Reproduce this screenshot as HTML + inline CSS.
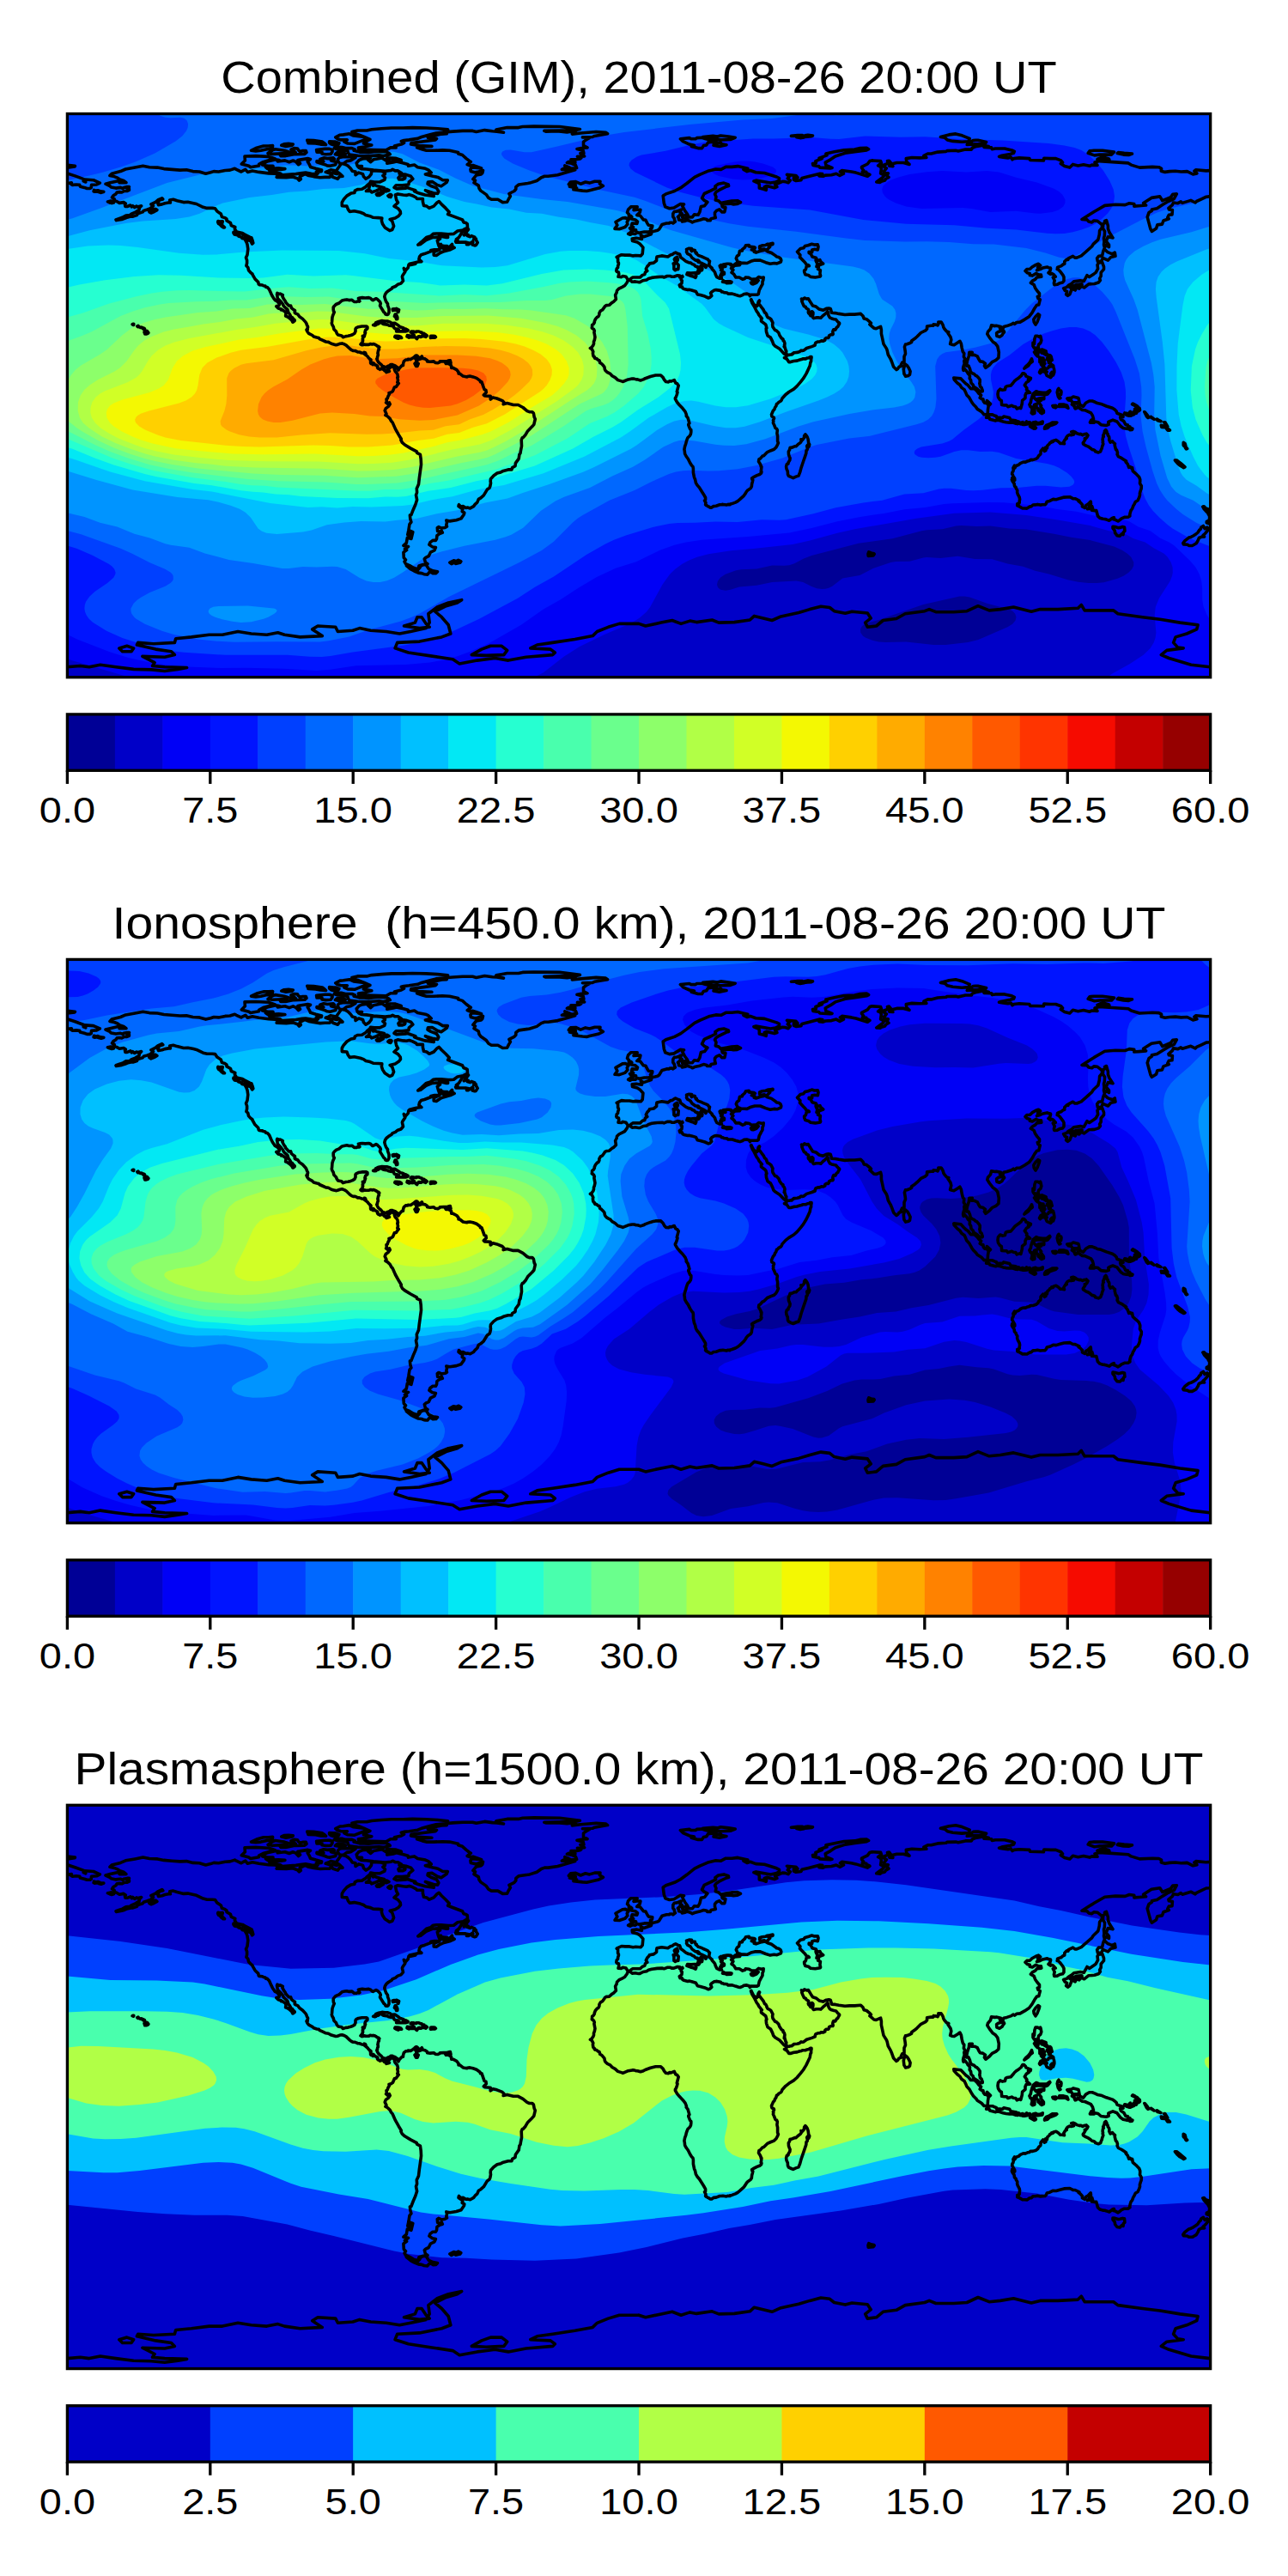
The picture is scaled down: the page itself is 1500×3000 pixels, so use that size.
<!DOCTYPE html>
<html><head><meta charset="utf-8"><title>TEC maps</title>
<style>
html,body{margin:0;padding:0;background:#fff;}
body{width:1500px;height:3000px;overflow:hidden;}
svg{display:block;}
text{font-family:"Liberation Sans",sans-serif;fill:#000;}
.t{font-size:51px;}
.k{font-size:42.5px;}
.c{fill:none;stroke:#000;stroke-width:3.6;stroke-linejoin:round;stroke-linecap:round;}
.f{fill:none;stroke:#000;stroke-width:3.33;}
</style></head><body>
<svg width="1500" height="3000" viewBox="0 0 1500 3000">
<defs><clipPath id="cp"><rect x="0" y="0" width="1331.25" height="656.25"/></clipPath>
<path id="coast" d="M49.5,72 51.8,69.7 61.9,67.1 67.9,64.5 78.8,62.6 88.1,60.8 95.6,62.2 105,62.6 112.5,64.1 121.9,64.9 131.2,65.6 138.8,65.3 146.2,67.1 153.8,67.5 161.2,69.7 166.9,68.3 170.6,67.1 176.2,67.5 183.8,66 189.4,65.6 195,63.8 196.9,64.9 202.5,67.5 204.4,66.4 207.4,64.9 210,67.9 215.6,66.4 223.1,67.9 234.4,69.4 241.9,69.7 247.5,72.4 243.8,73.9 255,74.2 262.5,73.5 268.1,75.4 270,77.6 271.9,76.1 270.8,73.1 276.8,70.1 281.2,72 286.9,73.1 294.4,74.2 300,73.9 305.6,73.9 307.5,71.2 309.4,73.9 315,75.8 316.9,73.1 320.6,72.8 316.9,69.4 313.1,66.7 315,63.8 318.8,58.5 320.6,58.1 324.4,59.2 327,60.8 330,63.8 331.9,66.7 335.6,67.5 335.6,71.2 339.4,68.6 344.2,70.1 345,73.1 347.6,75.8 351.4,73.5 354,70.1 354.4,66.4 360,66.4 365.6,66.7 370.1,68.6 369.8,70.5 367.5,72 370.1,74.6 369.4,76.9 363.8,79.5 357.4,79.5 353.2,78.8 352.5,80.6 348.8,83.6 347.6,85.1 343.1,87.8 337.9,88.1 334.9,89.6 334.5,91.9 330.4,92.6 325.5,95.6 321.8,99.8 319.9,103.1 319.9,107.2 325.5,107.6 327,111.4 328.9,114 334.1,113.3 341.2,114.8 345,116.2 347.6,118.1 352.5,119.2 356.2,120.8 362.2,121.1 366.4,121.5 366,124.5 367.1,128.2 369.8,132.4 375.4,136.1 378.4,135 380.2,130.9 378.4,125.2 375.8,123 381.8,121.5 385.9,118.9 388.1,116.2 387.8,113.6 385.1,110.2 380.6,107.6 385.1,103.5 383.2,100.1 382.1,94.5 384.8,93.4 391.1,94.5 394.9,94.9 398.2,94.1 401.6,95.2 406.1,97.5 407.2,99 414,99 414,102.4 415.1,106.9 418.5,107.6 421.5,109.9 426.8,107.6 430.5,103.5 432.8,102 435.8,105.4 440.6,109.9 444.8,114.4 443.2,117 448.1,118.9 460.1,123.4 461.6,126.4 464.2,127.1 465.8,128.2 466.1,132.8 463.5,133.9 460.9,135.4 454.5,136.5 450,139.9 443.6,140.2 435.4,139.5 429.8,139.5 426,139.9 423,142.5 418.1,144 412.5,149.2 408.4,152.6 411.4,151.9 417.8,147 425.2,144 430.9,143.6 434.2,145.5 430.9,147.8 432,151.9 433.1,154.9 438,156.8 444.4,156 448.1,151.9 448.5,154.5 450.8,156 446.2,158.2 437.6,160.5 434.2,162 429.8,165 426.8,164.6 426.8,161.2 433.5,158.2 427.5,158.2 423.4,159 423.8,160.1 415.9,163.1 412.1,164.2 410.2,166.5 409.5,169.5 412.5,172.1 408.4,172.5 405.4,173.2 398.6,174.8 404.2,174 405.4,174.8 400.1,175.9 397.5,175.9 397.5,176.6 396.8,179.2 394.1,182.2 391.9,180 392.6,182.2 393.4,182.6 393.4,184.1 390.4,188.6 390,189.8 391.1,194.6 388.5,197.6 384.8,198.8 382.1,201 378.4,202.5 378,203.6 373.9,206.2 371.6,208.1 370.1,210.4 369.4,213 370.1,215.6 371.2,218.6 373.1,221.2 373.1,223.1 374.6,227.2 374.6,231.4 373.5,233.6 372.4,234 370.5,233.6 370.1,232.1 368.6,231 366.8,228 364.9,225 364.1,223.5 364.9,220.9 364.1,219 361.1,216 359.6,215.2 355.9,217.1 355.1,216.8 353.2,214.9 351,214.1 346.9,214.5 343.5,214.1 340.5,214.5 339,214.9 339.8,216 339.8,217.5 340.5,218.2 339.8,218.6 338.2,218.2 336.8,219 334.1,219 331.5,216.8 328.1,217.1 325.5,216.4 323.2,216.8 319.9,217.5 316.5,220.5 312.8,222 310.9,223.9 309.8,225.4 309.8,228 310.1,229.9 310.9,231 309.4,234.4 308.6,237 308.2,242.2 307.9,244.1 308.6,246 309.8,247.9 310.5,250.9 313.1,253.5 313.9,255.8 315.4,257.6 319.5,258.4 321,260.2 324.4,259.1 327,258.8 330,258 332.2,257.2 334.5,255.8 335.6,253.5 335.6,250.5 336.4,249.4 339,248.2 343.1,247.5 346.1,247.5 348.4,247.5 349.5,248.2 349.5,250.1 347.2,252 346.5,254.6 347.2,255 346.5,256.9 345.8,259.5 344.6,258.8 343.9,258.8 343.9,259.1 344.6,259.5 344.6,260.2 343.9,262.1 344.2,262.5 343.9,264 344.2,264.4 343.5,266.2 342.8,267 342.4,267.4 341.6,268.5 342.8,269.2 343.1,268.5 344.2,269.2 344.6,269.2 345.4,268.5 346.5,268.5 346.9,268.9 347.2,268.9 349.1,268.9 351,268.9 352.1,268.5 352.5,268.1 353.6,268.1 354.8,268.5 355.5,268.5 356.2,268.1 358.1,268.5 358.5,268.9 360,269.6 360.8,270.4 362.2,270.8 363.4,271.9 363,272.2 362.6,273 363,274.5 362.2,275.6 361.9,277.1 361.5,279 361.9,279.8 361.9,281.6 361.5,282 361.1,283.5 361.1,284.6 360.4,285.4 360.8,286.5 361.1,287.2 362.2,289.1 363.8,290.6 365.6,292.1 366.8,293.6 366.8,294.4 368.2,294.4 368.6,294.4 369.8,295.1 371.6,294.8 373.1,294 375.4,293.2 376.5,292.1 378.8,292.1 378.4,292.5 380.6,292.9 382.1,293.6 383.6,294.8 384.8,295.5 384.4,296.2 385.5,298.5 387,295.9 389.6,293.2 391.1,292.9 391.1,291.4 391.9,288.4 394.1,286.5 396.4,286.5 396.8,285.8 399.8,286.1 402.8,284.2 404.2,283.1 405.8,281.6 407.2,281.6 408.4,282.8 407.6,283.9 405,284.6 406.5,286.9 406.5,289.1 404.6,291 406.1,294 407.6,294 408.8,291 407.2,289.9 407.2,286.9 411.8,285.4 411.4,283.9 412.9,282.4 414,285 416.6,285.4 419.2,287.2 419.2,288.4 422.6,288.8 426.8,288.4 428.6,289.9 431.6,290.2 433.9,289.1 433.9,288.4 442.9,288 439.9,289.1 441,291 444,291 447,292.9 447.4,295.9 449.2,295.9 453.4,298.1 455.6,300.8 455.6,302.6 457.1,302.6 460.9,305.6 465.4,306.4 465.8,306 468.8,305.6 472.5,306.4 476.6,307.9 480.7,310.9 481.1,312.4 482.6,312.4 485.6,321 487.5,321.8 487.9,324.4 484.9,327.4 486,328.5 492.8,328.9 492.8,332.6 495.7,330.4 500.2,331.5 506.6,334.1 508.5,336 507.8,338.2 512.2,337.1 519.4,339 525,339 530.6,342 535.5,346.1 538.1,347.2 541.5,347.2 543,348.8 543.8,353.2 544.9,355.5 543.4,361.9 541.5,364.1 536.2,369.4 533.6,373.9 531,376.9 529.9,377.2 528.8,379.9 529.1,387 528,392.6 527.6,395.2 526.5,396.8 525.8,401.6 522,406.9 521.6,410.2 518.2,412.1 517.5,414.4 513.4,414.4 507.8,415.9 504.8,417.4 500.6,418.5 496.5,421.5 493.1,425.2 492.8,427.9 493.1,430.1 492.4,433.9 491.6,435.8 489,437.6 484.9,444.4 481.5,447.4 478.9,448.9 477.4,452.6 474.8,454.9 473.2,457.1 469.1,459.4 466.1,458.6 464.2,459 460.9,457.1 458.2,457.5 456,455.2 455.6,457.1 460.5,460.5 459.8,463.1 462.4,464.6 462,466.5 458.6,471.4 453,473.2 445.5,474.4 441.4,473.6 442.1,475.9 441.4,478.9 442.1,480.7 439.9,481.9 435.8,482.6 432.4,481.1 430.9,482.2 431.2,486 433.9,487.1 435.8,485.6 436.9,487.9 433.5,489 430.5,491.2 430.1,495 429,496.9 425.6,496.9 422.6,499.1 421.5,501.8 425.2,504.4 429,505.1 427.5,508.5 423,510.7 420.8,515.2 417.4,516.8 415.9,518.2 417,522.4 419.6,524.2 418.5,524.4 414.4,525 409.5,526.5 409.1,528.4 407.6,530.2 403.1,528.8 398.6,526.1 394.1,524.2 392.6,521.6 394.1,519.4 391.9,517.1 391.5,510.7 395.2,508.1 393,507 397.1,504 391.5,502.9 394.9,499.9 396,493.5 400.5,495 402.4,487.1 399.8,486 398.6,490.9 396.4,490.1 397.5,484.9 398.6,477.8 400.5,475.5 399.4,471.8 399,467.6 400.5,467.2 402.8,461.2 405.4,455.2 407.2,449.6 406.1,444 407.2,441 406.9,436.5 409.1,431.6 409.9,424.5 411,416.6 412.1,408.4 411.8,402.4 411,396.8 407.2,394.9 406.9,393.4 399.8,389.6 393,385.5 390,382.9 388.5,379.9 388.9,378.8 385.9,373.9 382.1,367.1 378.8,359.6 377.2,357.8 375.8,355.1 373.1,352.5 370.5,351 371.6,349.5 369.8,345.8 370.9,343.1 373.9,340.9 375.8,338.2 375,336.4 373.5,338.2 371.2,336.4 372,335.6 371.6,332.2 372.8,331.5 373.5,329.2 375,326.6 374.6,325.1 376.9,324.4 379.1,322.9 381,318.4 382.9,318 384.4,315.8 385.9,313.9 384.4,312.8 385.1,310.5 384.4,307.1 385.1,306.4 384.4,303 382.9,301.1 381.8,300 381,297.8 381.8,297 381,296.6 380.2,295.5 378.4,294.4 376.5,294.8 375.8,295.9 374.2,297 373.5,297 373.1,297.8 375,300 373.9,300.4 371.6,301.1 370.9,298.9 370.5,299.6 369.4,299.2 368.6,297.8 367.1,297.4 366,297 364.5,297 364.1,297.8 363.8,297.4 361.9,296.6 361.1,295.5 361.5,295.1 361.5,294 360.4,293.2 358.9,292.5 357.8,292.1 357.4,291 356.2,290.2 356.6,291.4 355.9,292.1 355.1,291.4 353.6,291 353.2,290.2 353.2,289.1 353.6,287.6 352.9,287.2 353.6,286.5 352.1,285.4 350.6,283.9 349.9,282.8 348,281.2 346.1,279.8 346.5,279 347.2,279.8 347.6,279.4 346.9,278.2 345.8,277.9 345.4,279 343.1,278.6 342,278.2 340.1,277.5 338.2,277.5 337.1,276.8 335.2,276 333,276 331.1,275.2 329.2,273.8 324.8,269.6 322.9,268.5 319.9,267.4 317.6,267.8 314.6,268.9 312.8,269.2 310.1,268.5 307.5,267.8 304.1,265.9 301.1,265.5 297,263.6 293.6,262.1 292.9,261 290.6,260.6 286.9,259.5 285.4,258 281.2,255.8 279.4,253.5 278.6,251.6 279.8,251.2 279.4,250.1 280.1,249 280.1,247.9 279,246 278.6,244.5 277.5,242.6 274.1,238.9 270.4,236.2 268.5,233.6 265.1,232.1 264.8,231.4 265.1,229.1 263.2,228 261,226.1 260.2,223.5 258,223.5 255.8,221.2 254.2,219.4 253.9,218.2 252,215.6 250.5,212.6 250.9,211.1 247.9,209.6 246.8,210 244.5,208.9 244.1,210.4 244.5,212.2 244.9,214.9 246.4,216.4 249,219 249.7,220.1 250.9,221.6 252,223.9 253.1,225 254.2,226.1 256.5,228 257.6,231.8 258.8,233.2 259.9,235.1 259.9,237 261.8,237 263.2,238.9 264.8,240.4 264.8,241.1 262.9,242.6 262.5,242.6 261.4,240.4 258.8,238.1 256.1,236.2 254.2,235.5 254.6,232.5 253.9,230.6 252,229.5 249.4,227.6 249,228.4 248.2,227.2 245.6,226.5 243.4,224.2 243.8,223.9 245.3,224.2 246.8,222.8 246.8,220.9 244.1,218.2 241.9,217.1 240.4,214.9 238.9,212.6 237.4,209.6 235.9,206.2 235.1,204.4 232.9,202.1 231,201.8 230.6,200.6 228.4,200.2 227.2,199.5 223.5,199.1 222.8,198.4 222.4,196.1 218.6,192.4 215.6,187.1 215.6,186.4 213.8,185.2 211.1,182.2 210.4,178.9 208.5,177 209.2,174 209.2,170.6 208.1,167.6 209.6,164.2 210.4,157.5 209.6,152.2 208.5,149.2 207.4,147.4 207.8,146.6 213.4,148.1 215.3,151.5 216.4,150.4 215.6,147.4 214.5,144.4 213.8,144.4 206.6,140.6 204,139.1 197.2,137.6 195,134.2 195.4,132 190.9,130.1 190.1,127.1 185.6,124.5 185.6,122.6 183.4,121.1 180,120 178.9,116.6 174.4,113.6 172.1,110.2 168.8,109.9 162.8,109.9 158.2,108.8 150.4,105 147,104.2 140.3,102.8 135.4,103.1 127.9,101.2 123.4,99.8 119.3,100.5 120,103.5 117.8,103.5 113.6,104.2 110.3,105.4 106.1,106.1 105.4,104.2 107.2,100.5 111.4,99.4 110.3,98.3 105.4,100.5 102.8,102.8 97.5,105.4 100.1,107.2 96.8,110.2 92.6,111.7 88.9,112.9 87.8,114.4 82.1,116.2 81,118.1 76.5,119.6 73.9,119.6 70.5,120.4 66.8,121.9 63.4,123 57,124.1 56.6,123.4 60.7,121.9 64.1,120.8 68.2,118.5 72.8,118.1 74.6,116.6 79.9,114.4 80.6,113.6 83.6,112.1 84,109.5 86.2,107.2 81.8,108.4 80.6,107.6 78.4,109.1 76.1,107.2 75,108.4 73.5,106.5 69.7,108 67.5,108 67.1,105.8 67.9,104.6 65.6,103.1 60.7,103.9 57.4,102 55.1,101.2 54.7,99 52.1,97.5 53.6,95.2 56.6,93.4 57.8,91.5 60.7,91.1 63.4,91.5 66.4,90 69.4,90 72,88.9 72,87.4 71.2,87 69.4,86.6 72,85.1 69.7,85.1 65.6,85.9 64.5,87 61.9,85.9 56.6,86.6 51,85.5 49.5,84 44.6,81.7 49.9,80.3 58.1,78.4 61.1,78.4 60.7,80.3 68.6,80.3 65.6,78 61.1,76.5 58.5,74.6 54.7,73.1 49.5,72ZM796.1,210.8 803.6,210.8 804.8,210 805.9,205.1 806.6,204 808.1,201 809.6,198.4 809.6,195.4 810.4,193.9 810.8,190.5 808.5,190.9 805.1,190.1 802.5,192.4 796.9,192.8 793.9,190.9 789.8,190.5 789,192 786.4,192.8 782.6,190.5 778.5,190.5 776.2,186.8 773.6,184.9 775.5,181.9 773.2,180 777.4,176.6 783,176.2 784.5,173.6 791.6,174 796.1,171.8 800.6,170.6 807,170.6 813.4,173.2 818.6,174.8 823.1,174 826.5,174.4 831,172.5 831.4,170.6 830.6,168.4 828.4,166.9 826.1,166.5 824.9,165.4 820.1,162 815.6,160.5 812.6,158.6 815.2,157.9 818.2,154.9 816.4,153.4 821.6,151.9 821.6,150.8 818.2,151.5 815.2,151.9 813,153 809.2,153.4 806.2,154.5 806.2,156.8 808.1,157.9 811.9,157.5 811.1,159 807,159.8 802.1,161.6 799.9,160.9 800.6,159.4 796.9,158.2 797.2,157.5 801,156 799.9,155.2 793.9,154.5 793.9,153 790.1,153.4 789,155.6 786,158.2 786,159.4 783,159.8 782.2,164.2 780,165.8 778.9,168.4 780,170.6 780.4,172.1 783.8,173.2 783,174 778.5,174.4 777,175.5 774,177.4 772.5,175.9 772.9,175.1 770.2,174.8 768.4,174.8 763.9,175.5 766.5,177.8 764.6,178.1 762.4,178.5 761.2,176.2 759.8,177 760.5,179.2 762.8,181.1 761.2,182.2 763.1,183.8 765,184.9 765,186.8 761.6,186 762.8,187.9 760.5,188.2 762,191.6 759.4,191.6 756.4,190.1 754.9,187.1 754.1,184.5 752.6,182.6 750.8,180.8 750.8,179.6 750,179.2 747.8,177 747.4,175.5 747.8,172.9 748.1,171.8 747,171 745.9,169.5 744.4,168.8 740.6,167.2 738.4,166.1 735,165 732,162.4 732.8,162 730.9,160.5 730.9,159 728.6,158.6 727.1,160.1 726.4,159 726.4,157.5 727.1,157.1 724.1,156.8 721.1,157.9 721.5,159.8 721.1,160.9 722.2,162.8 725.6,164.6 727.5,167.6 731.6,170.6 734.6,170.6 735.8,171.8 734.6,172.5 738,173.6 740.6,174.8 744,176.6 744.4,177.4 743.6,178.9 741.4,177 738.4,176.6 736.5,178.9 739.5,180.4 739.1,182.2 737.2,182.6 735.4,185.6 733.9,186 733.9,184.9 734.6,182.6 735.4,181.9 733.9,178.1 732.8,178.1 731.2,177.4 730.1,175.9 727.9,175.1 726,173.6 723.4,173.2 720.4,171.8 717,169.1 714.4,167.2 713.2,163.5 711.4,163.1 708.4,161.6 706.5,162.4 704.6,163.9 702.8,164.2 699.4,166.5 692.2,165.4 686.6,166.5 686.2,168.8 686.2,171 682.9,173.6 678,174.4 677.6,175.5 675.4,177.8 673.9,180.8 675.4,183 673.1,184.5 672.4,187.1 669.8,187.9 667.1,190.5 662.2,190.5 658.5,190.5 656.2,192 654.8,193.5 652.9,193.1 651.8,191.6 650.6,189.8 646.9,189 645.4,190.1 641.6,189.8 642.4,186.8 642,184.5 640.1,184.1 639.4,183 639.8,180.4 641.2,178.9 641.2,177.4 642,175.1 642,173.6 641.2,172.5 641.2,171 641.2,168.4 639.8,166.9 645.4,164.2 649.5,164.6 654.8,164.6 658.9,165.4 661.9,165 667.9,165.4 669.8,163.1 670.5,155.6 666.8,151.5 663.8,149.6 658.1,148.1 657.8,145.5 662.6,144.8 669,145.9 667.9,141.4 671.2,143.2 679.9,140.2 681,137.2 684.4,136.5 687.4,135.8 689.2,134.6 692.6,129 697.9,127.5 700.9,127.5 701.6,126.7 704.6,126.7 705.4,127.5 708,125.6 707.2,124.1 706.9,121.9 705.4,120 705.4,116.2 706.1,115.1 706.9,114 710.2,113.6 711.8,112.9 714.8,111.7 714.4,113.6 713.6,114.8 714,115.9 715.9,116.2 715.1,117.8 714,117.4 711,120 712.1,121.9 712.1,123.4 715.9,124.1 715.9,125.6 719.6,124.9 721.9,123.8 726,125.2 727.9,126.4 730.5,125.2 736.5,123.8 741,122.2 744.8,123 745.1,124.1 748.9,124.1 749.6,122.2 754.9,121.1 754.1,118.1 754.1,115.1 756,112.9 759.4,111.4 762.4,114.4 765.4,114.4 766.1,111.4 766.5,109.1 765.4,109.5 762.8,108.4 762.4,106.1 767.2,105 772.1,104.6 775.9,105.4 780,105 784.1,103.1 780.4,101.2 773.6,101.6 766.9,102.8 760.9,103.9 758.6,101.6 754.9,100.5 755.6,96.7 754.1,93.4 755.6,91.1 759,88.9 767.6,84.7 770.2,84 769.9,82.5 764.6,80.6 758.2,81.7 754.5,84.4 755.2,86.6 749.2,89.6 741.8,93 739.1,98.3 741.8,100.9 745.5,102.8 742.1,107.2 738,108 736.5,114.4 734.6,117.8 730.1,117.4 727.9,120.4 723.8,120.4 722.2,117 719.2,112.9 716.2,107.2 718.1,105.4 714,105 706.5,109.5 701.2,110.2 696.4,108.4 694.9,104.2 693.8,95.6 697.1,93.4 707.2,90 714.4,86.2 721.5,81 730.5,73.9 736.5,70.9 747,66.4 755.2,64.5 761.2,64.9 766.9,61.9 774,61.9 780.8,61.1 792.4,63.8 787.5,64.9 791.6,67.1 795.4,66 801.8,68.3 811.9,69 826.1,73.5 829.1,75 829.1,77.6 825,79.5 819,80.6 802.1,77.6 799.5,78.4 805.5,81 805.9,82.9 805.9,86.6 810.8,87.8 813.8,88.9 814.1,87 811.9,85.1 814.5,84 823.5,86.2 826.5,85.1 824.2,82.5 832.9,78.8 836.2,79.1 839.6,80.3 841.9,77.6 838.9,75.4 840.8,73.1 838.1,70.9 848.6,72 850.5,74.2 846,74.6 846,76.9 848.6,78 854.6,77.2 855.4,75 863.2,73.1 876.4,69.7 879.4,70.1 875.6,72.4 880.1,72.8 882.8,71.6 889.9,71.2 895.5,69.7 899.6,72 904.1,69.7 900,67.5 902.2,66 913.1,67.5 918.4,68.6 931.9,72.8 934.5,70.9 930.8,69 930.4,67.9 925.9,67.5 927.4,66 925.1,63 925.1,61.9 931.9,58.5 934.5,55.1 937.1,54.4 947.2,55.1 948,57.4 944.2,60.4 946.9,61.5 948,64.1 947.2,69.4 951.4,71.6 949.5,74.2 942.4,79.5 946.5,79.9 948,78.8 952.1,77.6 953.2,75.8 956.6,73.9 954.4,72 955.9,69.4 951.8,69 951,67.1 954,63.4 949.1,60.4 955.9,57.8 955.1,55.1 957,54.7 958.9,57 957.4,60.8 961.5,61.1 959.6,58.5 966,57 973.9,57 980.6,58.9 977.3,55.9 976.9,52.1 983.6,51 992.6,51.4 1000.5,51 997.5,48.8 1002,46.5 1006.1,46.5 1013.6,44.6 1023.4,43.9 1024.5,43.1 1034.6,42.8 1037.6,43.5 1045.9,41.6 1053,41.6 1053.8,39.7 1057.5,38.3 1066.5,36.7 1072.9,37.9 1067.6,39 1076.2,39.4 1077,41.2 1080.8,40.5 1091.6,40.5 1099.9,42.4 1102.9,43.9 1102.1,45.8 1098,46.9 1088.2,48.8 1085.2,49.9 1089.8,50.6 1095.4,51.4 1098.8,50.6 1100.6,53.3 1102.5,52.1 1108.5,51.4 1120.5,52.1 1121.2,54 1137,54.4 1137.4,51.7 1145.2,52.1 1151.2,52.1 1157.2,54.4 1159.1,56.6 1156.9,58.1 1161.4,61.1 1167.4,62.6 1171.1,58.9 1177.1,60.4 1183.5,59.2 1190.6,60.8 1193.2,59.6 1199.6,60 1196.6,56.6 1201.9,55.1 1235.6,57.4 1239,59.6 1248.8,62.6 1263.8,61.9 1271.2,62.2 1274.2,63.8 1273.9,66.7 1278.4,67.9 1283.6,67.1 1290.4,66.7 1297.1,67.5 1304.2,67.1 1311,70.5 1315.5,69.4 1312.5,66.7 1314.4,65.3 1326,66.4 1333.9,66 1344.8,67.9 1350,69.4M0,69.4 9,72.4 19.1,76.1 18.8,78.4 21.4,79.5 20.3,76.5 30.4,77.2 37.9,80.6 34.1,82.5 28.1,82.9 27.8,86.2 26.2,87 22.9,87 19.9,85.9 15,84.7 14.3,82.9 10.5,82.5 6,82.9 4.1,81.7 4.9,80.3 0.4,81 0,81.0M1350,84.4 1345.1,86.2 1340.2,85.9 1343.6,87.8 1345.9,90.8 1347.8,91.9 1347,94.5 1340.2,93.8 1329.8,96.4 1326.4,96.7 1320.8,99.4 1315.1,102 1313.6,103.5 1308.4,100.9 1298.6,103.9 1296.8,102.4 1293.4,104.2 1288.1,103.5 1287,106.1 1282.5,109.9 1282.9,111.4 1287,112.1 1286.6,117.4 1282.9,117.8 1281.4,120.8 1282.9,122.2 1276.5,124.5 1275,128.6 1269.4,129.4 1268.2,133.5 1263,136.9 1261.5,134.2 1260,128.6 1257.8,120.4 1259.6,115.1 1263,112.9 1263,111.4 1269,110.2 1275.8,105.8 1282.1,102 1288.9,99 1291.9,93.4 1287.4,93.8 1285.1,97.1 1275.4,101.2 1272.4,96.4 1262.6,97.9 1253.2,103.9 1256.2,106.5 1248,107.2 1242.4,107.6 1242.4,105 1236.8,104.2 1231.9,106.1 1220.6,105.8 1208.2,106.9 1195.9,114 1181.6,123 1187.6,123.4 1189.5,125.6 1193.2,126.4 1195.5,124.5 1199.6,124.9 1204.9,129 1205.2,132.4 1202.2,136.1 1201.9,140.6 1200.4,146.6 1194.8,151.9 1193.2,154.5 1180.9,165.4 1175.6,167.6 1173.4,167.6 1171.1,165.8 1165.9,168.4 1165.5,169.9 1164,169.5 1162.5,171 1161.4,172.1 1161.4,174.8 1159.5,175.5 1158.8,176.2 1157.2,177.4 1155,178.1 1153.1,178.9 1153.1,180.8 1152.8,181.1 1154.2,181.5 1156.1,183.4 1159.5,187.9 1160.6,190.1 1160.6,194.6 1159.1,196.5 1155.8,197.2 1152.8,198.8 1149.4,199.1 1149,197.2 1149.8,194.2 1147.9,190.5 1150.9,189.8 1148.2,186.8 1146.4,186 1144.9,186.8 1142.6,185.2 1143.8,183.8 1144.5,183 1145.2,180.4 1144.9,179.6 1142.6,179.2 1141.1,178.5 1135.9,179.6 1132.9,181.1 1129.1,182.2 1131,180.4 1130.2,178.9 1133.2,176.6 1131,174.8 1128,175.9 1123.5,178.5 1121.2,180.8 1117.5,181.1 1115.6,183 1117.9,185.2 1120.9,186 1120.9,187.9 1123.9,188.6 1128,186 1131.4,187.5 1134,187.5 1134.4,189.8 1129.1,190.5 1127.2,192.8 1123.9,194.6 1122,196.9 1125.8,199.1 1127.2,202.9 1129.5,206.2 1132.1,209.2 1132.1,212.2 1129.9,213 1130.6,215.2 1132.9,216.4 1132.1,219.4 1131.4,222.4 1129.1,222.8 1126.5,226.5 1123.5,231.8 1120.1,236.2 1114.9,239.6 1109.6,242.6 1105.5,243 1103.2,244.9 1101.8,243.8 1099.5,245.3 1094.2,247.1 1090.5,247.9 1089,252 1087.1,252 1086,249.4 1087.1,247.9 1081.9,246.8 1080.4,247.1 1076.2,246.4 1075.1,250.5 1072.1,253.9 1071.4,256.5 1074,260.6 1077.8,265.5 1081.1,267.8 1083.4,270.8 1084.9,277.9 1084.5,284.2 1081.5,286.9 1077,289.1 1074,292.5 1069.5,295.9 1068,293.6 1069.1,291 1066.1,288.8 1063.1,288.4 1061.6,286.1 1059.8,282.4 1056.4,280.9 1053,280.9 1053.8,277.9 1050.4,277.9 1050,282 1048.1,287.6 1047,293.6 1049.6,293.6 1051.1,297 1051.9,300.4 1053.8,302.2 1056,303 1057.9,304.9 1059,305.2 1061.2,307.5 1062.8,309.8 1062.8,312.4 1062.4,314.2 1062.8,315.4 1063.1,317.6 1064.6,318.8 1065.8,322.1 1065.8,323.2 1063.1,323.6 1059.8,320.6 1055.2,317.6 1054.9,315.8 1052.6,313.5 1052.2,310.1 1050.8,308.2 1051.1,305.6 1050.4,303.8 1048.9,302.6 1048.1,300.8 1046.2,298.5 1044.4,296.6 1043.6,298.9 1043.2,296.6 1043.6,294.4 1044.8,291 1044.4,288 1045.5,285.4 1044,283.1 1044.4,279 1042.9,277.1 1041.8,272.6 1041,267.8 1039.5,264.8 1036.9,266.6 1032.8,269.2 1030.5,268.9 1028.2,268.1 1029.4,263.2 1028.6,259.9 1025.6,255.4 1026.4,254.2 1024.1,253.5 1021.5,250.5 1020.4,248.6 1020,246.8 1019.2,244.9 1017.7,242.6 1014.4,242.6 1014.8,244.1 1013.6,246.4 1011.8,245.6 1010.2,245.6 1008.8,245.3 1008.4,246.8 1005.8,246.8 1001.2,247.5 1001.2,250.5 999.4,252.4 994.1,255 989.6,259.5 987,261.8 983.2,264.4 983.2,265.9 981.4,267 978,268.3 976.1,268.5 975,271.5 975.8,276.4 976.1,279.4 974.6,282.8 974.6,289.1 972.4,289.5 970.9,292.5 972,293.6 968.6,294.8 967.1,297 965.6,298.1 962.3,294.8 960.4,289.5 958.9,285.8 957.8,283.9 955.9,280.5 954.8,275.6 954,273.4 950.6,268.1 949.1,261 948,256.1 948,251.6 947.2,247.9 942,250.1 939.4,249.7 934.5,245.3 936,243.8 934.9,242.6 930.8,239.2 927.8,238.5 926.6,235.5 924,232.9 916.9,233.6 910.9,233.6 905.6,234 898.5,232.9 894.4,232.1 890.2,231.8 888.8,226.9 886.9,226.5 883.9,226.9 880.1,228.8 875.6,227.6 871.9,224.6 868.1,223.5 865.9,220.1 862.9,215.2 861,215.6 858.4,214.5 857.2,216 855,215.6 855.8,217.5 855.4,218.2 856.5,220.9 858,224.2 859.9,225 860.6,226.5 863.2,228 863.2,229.5 862.9,231 863.2,232.1 864.4,233.2 865.1,234.4 865.5,235.1 865.1,232.5 866.2,230.6 867.4,230.2 868.5,231.4 868.5,233.6 867.8,235.9 868.5,237.4 869.2,238.1 872.2,237.4 875.2,237.4 877.5,237.8 880.1,235.1 882.8,232.9 885.4,230.2 886.1,231.8 886.5,234.8 888,237.4 890.2,238.5 892.9,239.2 895.1,239.6 897,241.9 898.1,243 899.2,243.8 899.2,244.5 897.8,246.8 897.4,247.9 895.9,249 894.4,251.6 892.5,251.2 891.8,252.4 891.4,254.2 891.8,256.5 891.4,257.2 889.5,257.2 887.2,258.4 886.9,260.2 886.1,261 883.9,261 882.4,262.1 882.4,263.6 880.5,264.6 878.2,264.4 876,265.5 874.1,265.5 871.5,266.6 870.8,268.5 870.8,269.6 867,271.1 861,273 857.6,275.6 855.8,276 854.6,275.6 852.8,277.1 850.1,277.9 847.1,278.2 846,278.2 845.2,279.4 844.1,279.6 843.8,280.5 841.9,280.5 840.8,280.9 838.1,280.9 837,278.6 837.4,276.4 836.6,275.2 835.9,272.6 834.8,271.1 835.5,270.8 835.1,269.2 835.5,268.5 835.5,267 834.8,265.1 833.6,264 833.6,262.5 831.8,261.4 829.5,258 828.4,255 825.8,252.4 824.2,252 821.6,248.2 821.2,245.6 821.6,243.4 819.4,239.2 817.5,237.8 815.6,237 814.5,234.8 814.5,234 813.4,232.1 812.2,231.4 810.8,228.4 808.5,225.4 806.6,222.8 804.8,222.8 805.5,220.9 805.5,219.4 806.2,217.9 805.9,217.5 804.8,219 804,222 803.2,223.9 802.1,224.6 801,223.1 799.1,221.6 796.5,216.2 796.1,216.5 797.6,220.5 799.9,224.2 802.9,230.2 804.4,232.1 805.5,234.4 808.9,238.5 808.1,238.9 808.1,241.5 812.6,244.9 813.4,245.6 814.5,249.4 813.8,250.1 814.1,253.9 815.6,258.4 819,260.6 821.2,265.1 822.4,268.5 824.2,270.4 829.5,273.8 834.8,279.4 836.6,280.5 837.4,281.6 837.4,283.1 835.1,284.2 836.6,285 838.1,285.8 840.4,289.1 842.2,289.1 846,288 849.8,287.6 853.1,286.5 855,286.1 856.5,285.4 858.4,285.4 859.9,285.4 861.4,284.6 863.6,284.2 865.1,283.1 866.6,283.1 866.6,284.2 866.2,286.1 866.2,288.4 865.5,289.5 864.8,293.6 862.9,297.8 860.6,302.6 857.2,308.2 853.9,312.4 849.8,317.2 846,320.6 840.4,324 836.6,327 832.5,331.5 831.8,333.4 831,334.5 828.4,336 827.2,337.5 826.1,337.9 825.4,340.5 824.2,342 823.5,344.2 822,345.8 820.1,350.2 820.5,352.5 822.8,353.6 823.1,354.8 822,357 822.4,358.1 822,360 823.1,362.2 824.6,366 826.1,366.8 826.9,368.6 826.5,372.4 827.2,375.4 827.2,381.4 828,383.2 826.9,385.9 825.4,388.5 823.1,390.8 819.4,392.2 815.2,394.1 811.1,398.2 809.6,398.6 807,401.6 805.5,402.4 805.1,405 807,408 807.8,409.9 807.8,411 808.5,411 808.1,414.8 807.8,416.2 808.5,417 808.1,418.5 806.2,420 803.2,421.1 798.8,423.4 797.2,424.5 797.6,426 798.4,426.4 798,428.2 797.2,431.2 796.9,434.2 795.8,436.1 793.1,438 792.4,438.4 790.9,440.2 789.8,442.1 787.9,444.8 783.4,448.9 780.8,451.1 778.1,452.6 774,454.1 772.1,454.5 771.8,455.2 769.5,454.9 767.6,455.6 763.5,454.9 761.2,455.2 759.8,455.2 755.6,456.8 752.6,457.1 750.4,458.6 748.5,458.6 747,457.5 745.9,457.1 744,455.6 744,456 743.2,455.2 743.6,453 742.1,450.4 743.2,449.6 743.2,447 741,443.2 739.1,440.2 736.1,435.4 733.5,432.4 732,429.8 731.2,426 730.1,423.4 729,417.8 729,413.2 728.6,411 727.1,409.5 725.2,406.5 723,402 720.8,399 719.2,396 718.9,393 718.5,390.8 719.2,387.4 720.4,384 720.8,382.1 721.9,378.8 722.6,377.2 724.9,375 726,373.1 726.4,370.5 726.4,368.2 725.2,367.1 723.4,362.6 723.4,361.7 724.5,360.4 723.4,356.6 722.6,354 720.8,351.8 721.1,351 720.8,349.9 719.6,346.9 716.6,343.1 712.9,339.3 710.2,336 708,332.2 708,331.1 708.8,330 709.9,327 710.6,324.4 709.9,323.6 711,319.5 711.8,316.5 710.2,314.2 708.4,313.5 707.6,311.6 706.9,311.2 706.9,310.1 703.1,311.6 701.6,311.2 700.1,312.4 697.1,312 695.2,309.8 693.8,307.1 691.1,304.5 688.5,304.5 685.1,304.5 682.1,305.2 679.1,306 673.1,308.2 670.9,309.4 667.5,310.5 664.1,309.4 662.6,309.4 660,308.6 657.8,308.6 653.2,309.4 646.9,312 646.1,311.6 641.2,310.1 637.9,307.1 634.5,305.2 632.2,302.6 631.1,302.2 628.5,300.8 626.6,298.9 625.9,297.4 625.5,294.8 623.6,292.5 622.1,291 620.2,289.9 619.9,288 619.5,287.2 618.4,286.9 616.1,285 614.6,285 613.9,283.9 613.9,283.1 612.8,282.4 612.4,281.6 612,278.6 612.4,277.1 610.9,274.1 609,273 610.5,272.2 612.4,269.6 613.1,267.8 613.1,265.5 613.9,263.6 614.6,260.2 613.9,256.5 613.5,254.6 613.9,252.8 613.1,250.9 610.9,249.4 611.2,247.9 611.2,246 612.8,244.9 613.9,243 613.9,241.9 615,239.2 617.2,236.6 618.4,236.2 619.5,234 619.5,232.1 621,229.5 623.2,228.4 625.9,224.6 625.9,224.2 627.8,223.1 631.1,222.8 634.1,220.1 636,219 639,216 638.2,211.1 639.8,208.1 640.1,205.9 642.4,203.6 646.1,201.8 649.1,200.2 651.8,196.5 652.9,193.9 655.5,193.9 657.8,195.8 661.5,195.4 665.2,196.1 666.8,196.1 670.5,194.2 674.6,193.5 676.9,192 680.6,190.9 687,190.1 693,189.8 694.9,190.5 698.6,189 702.4,189 703.9,189.8 706.5,189.8 710.6,188.2 713.2,188.6 713.2,190.5 716.2,189 716.6,189.8 714.8,191.6 714.8,193.5 715.9,194.2 715.5,197.6 712.9,199.5 713.6,201.4 715.9,201.4 716.6,203.2 718.1,204 722.6,205.1 724.1,204.8 727.1,205.5 732,207 733.9,210.4 737.2,211.1 742.5,212.6 746.6,214.5 748.5,213.8 750.4,211.9 749.2,208.9 750.4,207.4 753.4,205.5 755.6,205.1 760.9,205.9 762,207.4 763.5,207.4 764.6,208.1 768.4,208.5 769.5,209.6 774.4,209.6 778.1,210.8 781.9,211.9 783.4,212.2 786.4,211.1 787.9,210 791.2,209.6 793.9,210.4 795,212.2 795.8,210.8 796.1,210.8M507,103.1 501.4,99.8 493.9,99.8 490.5,97.9 487.9,94.1 481.5,89.6 479.6,87 478.9,83.6 473.6,80.3 475.1,77.6 472.5,76.1 476.2,71.6 481.9,70.5 483.4,69 484.1,66 480,67.1 477.8,67.9 474.4,68.3 469.9,67.1 469.5,64.5 471,62.6 474.8,62.6 482.2,63.4 475.9,61.1 472.5,60 468.8,60.4 465.8,59.2 469.9,55.9 467.6,54.4 464.6,52.1 460.1,48 455.2,46.5 455.2,45 445.1,42.8 437.2,42.4 427.1,42.8 418.1,42.8 413.6,41.6 407.2,39.4 417,38.3 424.5,37.9 408.8,37.1 400.1,35.6 400.5,34.1 414.8,32.2 428.6,30.4 430.1,28.9 420,27.8 423,26.2 436.1,23.6 441.8,23.3 439.9,21.4 448.9,20.6 460.5,19.9 472.1,19.9 476.2,21 486,19.1 495,20.3 500.2,20.6 508.1,21.7 499.1,19.9 499.5,18.4 512.2,16.1 525.4,16.1 530.2,15 543.4,14.6 573.4,15 597,18 589.9,19.5 575.6,19.5 555.4,19.9 557.2,20.6 570.4,20.3 582,21.4 589.1,20.3 592.1,21.7 588,23.6 597.8,22.5 615.8,21 627,21.7 629.2,23.3 613.9,25.9 611.6,27 600,27.4 608.6,27.8 604.1,30.4 601.1,32.6 601.1,37.1 605.6,39.4 600,39.7 593.6,40.9 600.8,42.8 601.5,46.1 597.4,46.1 602.2,49.5 594,49.9 598.5,51.4 597,52.5 591.8,53.3 586.5,53.3 591.4,55.9 591.4,57.4 583.9,55.9 582,57 587.2,57.8 592.1,60 593.2,63 586.9,63.8 583.9,62.2 579.4,60.4 580.5,62.6 576,64.9 586.1,64.9 591.4,65.3 581.2,68.3 571.1,71.2 559.9,72.8 555.8,72.8 552,74.2 546.8,78 538.5,80.6 536.2,81 531,81.7 525.8,82.5 522.4,85.1 522.4,87.8 520.5,90 514.5,93 516,96 514.1,99 512.2,102.8ZM620.6,78.8 619.9,81.4 624,84 619.1,86.6 608.2,89.2 604.9,90 600,89.6 589.5,88.3 593.2,86.6 585,84.7 591.8,84 591.8,82.9 583.9,82.1 586.1,79.5 592.1,79.1 597.8,81.7 603.4,79.5 608.2,80.6 614.2,78.8ZM663.8,108.4 659.6,112.1 663.4,111.7 667.5,111.7 666.8,114.8 663.4,118.1 667.1,118.5 670.9,123.4 673.5,123.8 675.8,128.2 676.9,129.8 681.4,130.5 681,132.8 679.1,133.9 680.2,135.8 677.2,137.6 672,137.6 665.6,138.8 663.8,138 661.5,139.9 658.1,139.5 655.5,140.8 653.2,139.9 658.9,136.1 662.2,135.4 656.2,134.6 655.1,133.1 659.2,132 657,130.1 657.8,127.5 663.4,127.9 664.1,125.6 661.5,123.4 657,122.6 655.9,121.5 657.4,120 656.2,118.9 654,120.8 654,117 652.1,115.1 653.2,111.4 656.2,108.4 659.2,108.4ZM649.5,132 642.8,134.2 637.6,133.9 640.5,129.8 638.6,126 643.9,123 646.5,121.5 649.9,121.1 653.6,123.4 651.8,126 652.5,128.6ZM464.6,138 462,141.4 464.6,139.9 466.9,141 465.8,142.1 469.1,143.2 470.6,142.1 474.4,143.6 473.2,146.2 475.9,145.5 476.2,147.4 477.8,150 475.9,153 474.4,153.4 471.8,152.6 472.5,149.6 471.8,148.9 467.2,152.2 465,152.2 467.6,150.4 463.9,149.6 460.1,149.6 452.6,149.6 452.2,148.5 454.5,147 453,146.2 456,144 459.8,138 462.4,135.8 465.4,134.6 467.2,134.6ZM433.1,141 439.1,141.8 443.2,143.2 443.2,144 441.4,144 436.5,142.9ZM435,151.9 436.1,153.6 439.1,154.1 442.5,154.1 440.6,155.6 439.1,155.6 434.6,154.1 433.5,153ZM366.4,241.1 369.8,241.5 372.8,241.5 376.1,242.6 377.6,244.1 381.4,243.8 382.5,244.5 385.9,246.8 388.1,248.6 389.2,248.6 391.5,249.4 391.1,250.5 394.1,250.5 396.8,252 396.4,252.8 393.8,253.5 391.5,253.5 388.9,253.3 383.2,253.5 385.9,251.6 384.4,250.5 382.1,250.5 380.6,249.4 379.9,247.1 377.6,247.1 374.2,246.4 373.1,245.6 368.2,244.9 366.8,244.1 368.2,243.4 364.5,243 361.9,244.9 360.4,244.9 359.6,246 358.1,246.4 356.2,246 358.5,244.9 359.2,243.4 360.8,242.6 362.6,241.9ZM402.8,253.5 406.1,254.2 406.5,253.5 409.5,253.5 411.8,254.6 412.7,254.6 413.2,255.8 415.5,255.8 415.1,256.9 417,256.9 418.9,258.4 417.4,259.9 415.5,259.1 414,259.1 412.5,259.1 412.1,259.9 410.6,259.9 409.9,259.1 408.8,259.5 407.2,262.1 406.1,261.4 406.1,260.6 403.5,259.9 402,260.2 399.4,259.9 397.9,260.6 395.6,259.5 396,258 399.8,258.8 402.4,259.1 403.9,258 402,256.5 402,255 399.8,254.6 400.5,253.5ZM384,258.8 386.6,259.1 388.5,259.9 389.2,261 386.6,261 385.5,261.8 383.2,261 381.4,259.9 381.8,258.8ZM426.4,258.8 428.2,259.1 429,259.9 428.2,260.6 425.2,260.6 423,261 423,259.1 423.4,258.8ZM381.8,233.6 382.9,233.6 384.4,237 384.4,238.9 383.2,239.2 382.5,237 381,235.9ZM378.8,227.6 380.6,227.2 383.1,227.6 383.2,228.4 379.1,229.1ZM383.2,226.9 386.2,228.4 385.5,231 384.8,230.6 385.1,228.8 383.2,227.2ZM443.6,287.6 445.9,287.2 446.6,290.2 443.2,290.6 442.7,290.2 443.6,289.1ZM380.6,85.9 382.9,83.3 390,83.3 397.5,82.5 397.9,79.5 402.4,75.8 400.1,72.8 394.5,70.9 386.6,69.7 389.2,69 385.1,66.4 381.8,66.4 378.8,64.9 376.9,66 370.1,66.7 356.6,65.6 348.4,64.5 342.4,64.1 339.4,62.6 343.1,61.1 337.9,61.1 336.8,57.4 339.8,54 343.5,52.5 353.2,51.4 350.2,53.6 353.2,56.2 356.6,53.3 366.4,51.4 372.8,55.5 372.4,57.8 379.5,56.6 383.2,55.5 391.5,57.4 396.8,58.9 397.1,60.8 404.2,59.6 408,62.2 417,63.8 420.4,65.3 423.8,68.6 417,70.5 426,72.8 431.6,73.9 437.2,77.2 442.9,77.2 441.8,79.9 435.4,84.4 430.9,82.9 424.9,79.1 420,79.5 419.6,81.7 423.4,84 428.6,85.9 430.1,86.6 432.4,90.4 431.2,93 426.4,92.2 417,89.2 422.2,92.2 426.4,94.5 426.8,96 416.6,94.5 408.8,92.2 404.2,90.4 405.4,89.2 399.8,87.4 394.5,85.5 394.5,86.6 383.6,87.4ZM270.8,53.6 280.1,52.1 283.1,52.9 279.8,55.5 282,59.2 283.1,61.9 289.5,63.8 296.2,65.6 295.9,67.1 289.9,67.5 292.1,69 291,70.1 284.2,69.7 277.5,68.6 273.4,69 266.2,70.1 250.1,71.2 247.9,69.4 243,68.3 239.6,68.6 235.1,65.8 237.4,65.3 243.4,64.9 248.6,64.9 253.5,64.1 246,63.4 238.1,63.8 232.9,63.8 231,62.2 239.6,60.8 233.6,60.8 227.2,59.6 230.3,57 232.9,55.5 243,53.3 246.8,54 244.9,55.5 253.5,54.4 258.4,56.2 262.9,54.5 266.2,55.9 269.2,59.2 271.1,57.8 268.5,54ZM223.1,60.4 213.4,62.2 211.5,60.8 202.9,58.5 207,54.4 206.6,49.5 219.4,49.1 234,49.9 237.8,51 241.9,52.5 237,53.6 228,56.2 223.1,58.9ZM269.2,42.4 270.8,43.9 274.1,43.1 277.9,43.1 278.6,45 276.4,46.9 263.6,47.2 254.2,49.1 248.6,49.1 247.9,48 255.8,46.1 238.9,46.9 233.6,46.1 238.9,42.4 242.2,41.2 252.8,42.8 259.5,45 265.9,45 260.6,41.6 264,40.1 268.1,40.5ZM214.1,42.8 220.5,39.7 228.4,37.5 234,37.5 239.2,37.1 238.9,39.7 235.9,41.2 232.5,41.2 225.4,42.8 219.4,43.5ZM308.6,42 308.6,44.2 306.8,46.9 300.8,47.2 296.6,46.5 296.6,44.6 290.6,44.6 290.2,42 300,40.9 305.2,40.9ZM324,46.9 321.8,48.4 316.5,48 312,47.2 313.9,45.4 319.1,44.6 322.5,45.8ZM375.8,47.2 373.1,48 367.9,49.1 363,48.4 352.1,49.1 344.2,49.1 338.2,48.8 328.5,47.6 327,45.4 326.6,43.5 322.9,42 315,41.6 310.9,40.1 312.4,38.6 319.9,39 324,40.1 331.5,40.1 334.9,41.6 333.8,42.8 338.2,43.9 340.5,44.6 345.8,44.6 351,45 357,44.2 364.5,43.9 370.9,44.2 374.6,45.8ZM325.5,55.1 321.4,58.1 317.2,57.8 315,54.7 315,52.9 316.9,51 320.6,50.3 328.5,50.3 335.6,51 330,54.4ZM312.4,59.2 306,60.8 302.6,60.4 300,59.2 290.6,56.2 290.6,55.1 298.5,55.5 294.4,52.9 298.5,51.4 303,52.1 309.8,51.4 310.9,52.5 307.1,54.4 313.1,55.9ZM316.5,69 313.9,70.1 309,69 306,69.6 300.8,67.9 304.1,66.7 306.8,65.3 310.5,66 312.8,66.7 313.9,67.5ZM355.5,81.7 356.2,83.6 358.1,82.9 360.4,84 364.5,85.1 369,86.2 369,88.1 372,87.8 374.6,89.2 371.2,90.4 365.6,89.2 363.4,87.8 359.6,89.6 354.4,91.5 352.9,89.6 348,90 351,88.1 351.8,85.1 352.9,81.7ZM367.9,92.2 363.4,94.9 360.8,94.9 360,93.8 362.6,92.2ZM375.4,94.1 376.9,94.1 377.6,94.9 376.5,97.1 374.6,96.7 373.5,95.6ZM390.4,76.5 386.2,76.5 385.5,74.6 387,72.8 390.4,72 393.4,73.1 393.4,74.6 393,75.4ZM388.9,54 388.9,55.1 385.1,54.7 381,54.7 376.9,55.5 375.8,55.1 371.6,53.3 372,51.7 373.5,51.4 382.1,51.7ZM339.4,41.2 356.2,42 371.2,42.4 376.5,39.4 382.9,39.4 381,37.5 388.9,35.6 392.2,33.8 388.9,31.9 391.9,31.1 397.9,30.4 408,28.9 412.5,27 423.4,24 429.4,22.5 440.2,21.4 443.1,18.4 431.2,17.2 418.1,16.5 402,16.1 391.1,16.5 377.6,16.5 366,17.2 354.4,18.2 348.8,19.5 337.9,19.5 331.5,21 332.2,22.3 339.4,24.4 345.8,27 352.5,30 348.8,31.9 345,34.5 354.4,36.4 345.8,38.6 339,39.6ZM348.8,29.2 334.5,34.9 326.6,34.5 322.5,32.6 325.9,30.4 318.8,30.4 314.6,29.2 312.4,27.4 317.6,24.7 321.4,24.4 328.5,23.3 333.4,25.5 345.8,27ZM286.9,31.1 297,32.6 299.6,34.5 301.1,36 295.1,35.6 289.1,34.5 280.5,34.1 284.2,33 279.8,32.2 279.4,30.8ZM305.2,33.8 305.2,32.2 310.1,32.6 312.2,32.6 316.5,34.1 315.8,35.3 310.1,36.2 307.1,35.3ZM257.6,34.9 262.9,35.6 261.8,36.7 254.6,37.9 249.4,36.7 252.4,35.3ZM211.9,146.2 210,146.6 203.6,145.1 202.7,143.6 199.3,142.5 198.8,141.4 194.8,140.6 193.5,138.8 193.6,137.7 197.6,138.6 199.9,139.1 203.4,139.5 204.7,140.8 206.6,142.5 210.4,144.1ZM175.5,125 177.4,125.5 180.9,125.2 179.8,129.4 183.1,132.4 181.6,132.4 179.3,130.7 177.9,129 176.1,127.9 175.3,126.2ZM101.2,114 97.5,115.5 95.6,114.4 94.9,112.5 98.2,111.4 100.5,110.7 102.9,111 104.5,112.1ZM50.6,101.6 53.6,102 54,103.5 51.8,104.1 49.3,103.4 47,102.4ZM31.1,88.9 33.4,89.6 35.6,89.2 38.6,90.4 42.4,90.8 42,91.1 39.4,91.9 36.4,91.1 34.9,90.4 31.7,90.8 30.7,90.4ZM91.9,256.5 93.8,255.8 94.5,255 93,253.1 90.4,252.4 89.6,254.2 90.4,256.5ZM88.9,250.9 90,250.3 88.9,249.6 87.4,249.7ZM83.6,248.2 82.1,248.2 81.4,247.3 82.5,246.8ZM77.2,246 75.7,245.4 76.5,244.9 77.4,244.9ZM85.1,249 87,248.8 85.5,248.6ZM417.8,525.4 419.1,527.2 420.9,530.1 425.8,532.3 431.1,533.2 429.4,535.1 425.8,535.3 423.9,534 421.6,533.9 419.4,536.6 417.6,536.5 415.4,536.2 412.7,535.1 408.8,534.6 404,532.5 400.2,530.5 395,526.3 398.1,527.1 403.4,529.5 408.4,530.9 410.2,529.1 411.5,526.6 414.9,525ZM445.5,522.6 450,520.3 453.2,521.2 455.4,519.8 458.4,521.4 457.3,522.8 452.2,523.9 450.6,522.6 447.4,524.2ZM731.6,29.2 733.1,28.1 738.8,27.8 743.6,29.2 755.6,32 746.2,33.4 744.4,36.4 741,37.1 739.1,40.1 734.6,40.1 726.8,37.9 730.1,36.7 724.5,35.6 717,32.2 714,29.2 724.5,28.1 726.4,29.2ZM751.9,25.9 757.1,26.6 760.9,25.5 770.2,26.6 777.8,27.8 772.1,30 761.2,30.4 750.4,29.6 749.6,28.9 744.4,28.5 740.2,27ZM767.6,36.2 759.4,37.9 752.6,36.7 755.2,36 753,34.7 760.9,33.8 762.4,35.3ZM868.1,58.1 871.9,57.4 871.5,55.1 879,52.1 875.6,51.6 884.6,48.4 883.5,46.5 892.1,44.6 904.5,42.2 916.9,41.6 923.2,40.1 930.8,39.7 933.2,41.2 930.8,42.4 917.2,44.2 906,45.8 894.4,49.5 888.8,53.3 882.8,56.6 883.5,60 890.6,63 888.4,63.4 876.4,62.6 875.2,61.1 868.5,60ZM843,25.9 850.5,25.1 856.1,25.1 856.9,26.2 859.1,25.3 862.5,24.7 868.1,25.5 866.6,26.2 861.8,26.6 858.4,27 857.8,27.4 853.5,28.1 849.4,27.2 851.6,25.9ZM1049.6,32.2 1041.8,32.8 1031.2,31.9 1024.9,30.4 1021.9,27.8 1017,27 1026.8,24.4 1034.6,23.4 1042.1,25.3 1050.8,28.9ZM1069.1,34.5 1047.8,36 1054.9,31.1 1057.9,30.8 1060.5,30.8 1070.2,33ZM1195.5,42.8 1205.6,42.8 1219.1,44.6 1216.1,47.6 1202.2,47.6 1196.2,48.4 1188.8,45.8 1190.6,43.3ZM1222.9,46.1 1224,45 1230.8,45.8 1240.1,46.5 1236,48 1230,47.6ZM1207.9,53.6 1200,53.3 1199.6,52.9 1203,51.4 1207.9,51 1213.1,52.5 1213.5,53.6ZM1345.1,61.5 1350,60.0M0,60 0.4,59.8 9,60.8 8.6,61.5 0,62.6M1350,62.6 1345.9,62.6 1345.1,61.5M1210.1,124.1 1212,130.5 1212,133.9 1213.5,138 1217.6,144.4 1212,143.2 1209.8,148.5 1213.1,152.6 1213.1,155.2 1210.1,153 1207.9,155.6 1207.1,152.6 1207.5,148.9 1207.1,144.8 1207.9,142.1 1208.2,136.9 1206,133.5 1206.4,128.2 1209.8,126.4 1208.2,124.9ZM1214.6,162.4 1217.2,163.3 1219.9,161.6 1220.6,165.8 1215.4,166.9 1212,170.6 1206,168 1204.1,172.1 1200,172.1 1199.2,168.4 1201.1,165.8 1205.2,165.4 1206.4,160.1 1207.5,157.3 1211.6,161.2ZM1203.8,189 1202.2,192 1203,193.9 1200.9,196.5 1196.2,198 1189.5,198.4 1184.2,202.5 1181.6,201.2 1181.6,198.4 1174.9,199.1 1170.8,201 1166.2,201 1170,203.8 1167.4,210.2 1165.1,211.9 1163.2,210.4 1164.2,207 1161.8,205.9 1160.2,203.2 1163.8,202.1 1165.9,199.9 1169.6,197.8 1172.2,195.4 1179.8,194.2 1183.9,195 1187.6,188.2 1190.2,190.1 1195.7,186.4 1197.8,184.9 1200.2,180.4 1199.6,175.9 1201.1,173.6 1205.2,172.9 1207.1,178.1 1207.1,181.1 1203.8,184.9ZM1179.8,200.1 1180.5,201.4 1178.2,203.6 1176.8,202.5 1174.9,203.2 1173.8,205.5 1171.5,204.4 1171.5,202.5 1173.4,200.2 1175.6,201 1177.1,199.1ZM1131.8,236.6 1129.5,242.6 1127.6,245.6 1125.8,242.6 1125.4,239.6 1127.6,236.2 1130.6,233.2 1132.3,234.4ZM1088.6,258 1085.6,259.9 1082.5,258.8 1082.2,255.4 1084.1,253.9 1088.2,252.8 1090.5,252.8 1091.2,254.2 1089.8,255.8ZM1132.1,259.9 1133.2,258.8 1133.6,259.9 1134.4,264 1133.4,267 1131.4,268.5 1130.6,271.5 1131.4,274.5 1133.6,274.9 1135.1,274.5 1139.8,276.4 1139.6,278.6 1140.8,279.4 1140.4,281.2 1137.4,279.4 1135.9,277.3 1135.1,278.6 1132.5,276.4 1129.1,277.1 1127.2,276 1127.6,274.5 1128.8,273.8 1127.6,272.6 1127.2,274.1 1125.4,271.9 1124.6,270.4 1124.6,266.6 1126.1,268.1 1126.5,262.1 1127.6,258.8 1129.9,258.8ZM1149,296.6 1149.4,299.1 1149.4,301.1 1148.2,304.5 1146.8,300.8 1145.2,302.6 1146.4,305.6 1145.2,307.1 1140.8,304.9 1139.6,302.2 1140.8,300.4 1138.5,298.9 1137.4,300.4 1135.5,300 1132.9,302.2 1132.1,301.1 1133.6,298.1 1135.9,297 1138.1,295.5 1139.2,297.4 1142.2,296.2 1143,294.4 1145.6,294.4 1145.2,291.4 1148.2,293.2 1148.6,295.1ZM1123.1,285.4 1123.9,288.6 1121.2,290.6 1119.4,293.2 1114.5,296.6 1116.4,294 1119,291.8 1121.2,289.1ZM1144.5,281.2 1145.6,282.4 1146.8,286.9 1143.8,285.8 1143.8,286.9 1144.9,289.1 1143,290.2 1143,287.6 1141.9,287.2 1141.1,285 1143.4,285.4 1143.4,283.9 1141.1,280.9ZM1132.1,283.5 1134.4,284.6 1136.6,284.6 1136.6,286.1 1134.8,288 1132.5,289.1 1132.5,287.2 1132.5,285.4ZM1136.2,294.4 1134,291.8 1135.9,289.5 1136.1,287.2 1138.1,287.1 1137.4,289.5 1138.5,290.8 1136.6,293.2ZM1130.6,279 1129.9,282.4 1128,280.5 1126.1,277.5 1129.5,277.9ZM1112.6,302.2 1114.1,302.2 1116,304.1 1116.4,305.6 1122,307.9 1121.6,309.4 1119,309.4 1119.8,311.2 1117.1,312.8 1114.9,316.1 1117.5,319.5 1117.1,321.4 1121.2,324.8 1116.8,325.1 1115.6,327.8 1115.6,331.1 1112.2,333.8 1111.9,337.5 1110.4,343.1 1110,342 1105.9,343.5 1104.4,341.2 1101.8,340.9 1099.9,339.8 1095.4,341.2 1093.9,339.4 1091.2,339.4 1088.2,339 1087.9,334.1 1086,333 1084.1,330 1083.6,326.6 1084.1,323.2 1086.4,320.6 1089,321.8 1092,321.2 1092.8,318 1094.2,317.2 1098.8,316.5 1101.4,313.5 1103.2,311.2 1104.8,309.8 1107.9,307.7 1110.8,305.2ZM1032.4,307.5 1040.6,308.4 1044,312 1046.6,314.6 1048.9,316.1 1052.2,320.2 1056.4,320.2 1059.4,322.9 1061.6,325.9 1064.2,327.8 1062.8,330.8 1065,332.2 1066.5,332.2 1066.9,334.9 1068.4,336.8 1071,337.1 1072.9,339.8 1072.1,344.2 1071.8,350.1 1067.6,350.2 1064.6,346.9 1059.8,343.9 1058.2,341.6 1055.2,338.6 1053.4,336 1050.4,330.6 1047.4,327.4 1046.2,324.4 1044.8,321.4 1041.4,318.9 1039.5,315.8 1036.5,313.5 1032.8,309.5ZM1072.9,350.2 1077.4,350.4 1080.4,351.8 1081.9,352.1 1082.2,353.6 1089.4,354 1090.5,352.5 1097.2,354 1098.8,356.6 1104.4,357.4 1108.9,359.6 1104.8,360.9 1100.6,359.4 1097.2,359.6 1093.1,359.2 1089.8,358.5 1085.2,357 1082.6,356.6 1081.1,357.4 1074.4,355.7 1073.6,354 1070.2,353.8ZM1144.5,322.9 1141.5,326.6 1138.9,327.4 1135.1,326.6 1129.1,326.6 1125.8,327.4 1125.4,330 1128.4,333.4 1130.6,331.7 1137.4,330.4 1137.4,332.2 1135.5,331.5 1134,333.8 1130.6,335.2 1134.2,340.1 1133.6,341.2 1137,345.8 1137,348 1134.8,349.1 1133.2,348 1135.1,345 1131.4,346.3 1130.6,345.4 1131,343.9 1128.4,341.6 1128.8,337.9 1126.1,339 1126.5,343.5 1126.5,348.8 1124.2,349.5 1122.8,348.4 1123.7,345 1123.1,341.2 1121.6,341.2 1120.5,338.6 1122,336 1122.4,333.2 1124.2,327.6 1125,325.9 1128.4,323.2 1131.4,324.4 1135.9,324.8 1140.4,324.8 1144.1,322.1ZM1155,322.1 1157.2,322.5 1157.6,324 1157.2,327 1155.4,326.6 1155,329.1 1156.5,331.1 1155.4,331.5 1153.9,329.2 1152.8,324.4 1153.5,321.4 1154.6,319.9ZM1160.2,338.6 1164.4,339.8 1165.5,342.8 1162.5,340.9 1159.5,340.9 1157.2,340.9 1154.6,340.9 1155.4,338.6ZM1152.2,341.1 1150.8,342.4 1148.2,341.6 1147.5,340.1 1151.2,339.8ZM1138.1,366.8 1141.5,366 1144.1,363.4 1147.5,362.2 1151.2,360.8 1152.4,359.6 1149.8,359.6 1147.1,359.6 1143.8,361.5 1140,363 1138.3,365.2ZM1117.1,358.5 1118.6,359.6 1120.9,359.2 1121.6,360.8 1117.5,361.5 1114.9,361.9 1112.6,361.9 1114.1,360 1116,359.8ZM1135.9,358.5 1135.5,360.6 1129.7,361.5 1124.6,361.1 1124.6,359.6 1127.6,358.9 1129.9,360 1132.5,360ZM1121.2,364.1 1124.6,363.4 1126.5,364.5 1128,365.6 1127.6,366.4 1126.1,366.8ZM1104.4,358.9 1108.1,358.5 1108.9,360 1106.6,361.1ZM1109.6,360 1112.6,359.2 1112.2,361.5 1109.6,361.1ZM1071,334.1 1075.1,337.9 1073.6,339.4 1071.4,336ZM1164.4,331.6 1169.6,330.8 1171.5,329.6 1177.5,331.1 1177.9,332.4 1179,338.6 1183.1,340.9 1186.1,336.8 1190.2,334.5 1193.6,334.5 1197,335.8 1199.6,337.1 1203.8,337.9 1210.1,340.5 1217.2,342.8 1219.9,344.6 1221.8,346.5 1222.5,348.8 1228.5,351 1229.6,352.9 1226.2,353.2 1227,355.9 1230.4,358.1 1232.6,362.2 1234.9,362.2 1234.9,363.8 1237.5,364.5 1236.4,365.2 1240.5,366.8 1240.1,367.9 1237.5,368.1 1236.8,367.1 1233.4,366.8 1229.6,366 1226.6,363.8 1224.8,361.5 1222.5,358.5 1217.6,356.6 1214.6,357.8 1212.4,358.9 1212.8,361.9 1209.8,363 1203.8,362.2 1200.4,359.2 1196.6,358.5 1195.9,359.6 1191,359.6 1192.5,356.6 1195.1,355.5 1194,351.4 1192.1,348.4 1185,345.2 1182,345 1176.4,341.2 1175.2,343.1 1173.8,343.5 1173,342 1172.8,340.5 1170,338.6 1174.1,337.5 1176.8,337.5 1176.4,336.4 1170.8,336.4 1169.2,334.1 1165.9,333.4ZM1231.1,349.5 1231.5,348.4 1234.9,349.1 1236.9,348.8 1237.5,347 1237.9,346.9 1238.2,348.8 1240.5,348.6 1241.6,347.2 1243.5,345.9 1243.1,343.9 1245.4,343.7 1246.1,344.2 1246.1,346.4 1245,348.8 1243.1,349 1242.4,350 1240.3,350.9 1238.2,351.8 1236.4,351.8 1233.4,350.7ZM1247.2,341.8 1248.8,343.1 1249.1,345 1248,346 1247.2,343.8 1246.5,342.4 1244.8,341.1 1242.8,339.5 1240.1,338.4 1240.9,337.5 1243.1,338.6 1244.2,339.4 1245.8,340.3ZM1255.5,348 1258.1,351.4 1259.6,353.6 1258.5,354 1257,352.5 1254.4,347.2ZM1273.6,358.2 1269.8,357.2 1268.2,355.9 1269,355.5 1270.5,356.5ZM1278.2,365.1 1274.4,364.9 1273.9,362.8 1276.5,363.4 1277.6,364.1ZM1279.9,362.2 1277.2,359.2 1278.4,359.2 1281.4,364.1ZM1282.9,367.5 1284,368.6 1281.4,368.6 1279.9,366.4ZM1265.6,355.7 1261.9,353.5 1262,352.9 1264.1,354.4ZM1302,387.8 1304.2,390 1303.1,390.4 1302,388.9ZM1300.5,386.9 1299.8,385.9 1299.8,382.9 1301.6,384 1302.4,387ZM1290,403.5 1291.9,403.5 1296.8,407.2 1301.6,411.4 1300.1,412.1 1298.2,411 1295.6,409.5 1293,407.2 1290.8,404.6ZM1342.9,393.8 1345.1,394.1 1344.8,396.2 1342.1,396.8 1340.2,396.2 1339.9,394.5 1341.4,393.4ZM1344.8,390.4 1346.6,389.6 1347.8,391.1 1349.6,390 1349.6,388.5 1345.1,388.5ZM1213.3,379.7 1214.7,382.7 1217.1,381.3 1218.3,382.8 1220.1,384.3 1219.8,386 1220.6,389.2 1221.1,391.1 1222.1,391.5 1223.1,394.7 1222.7,396.7 1224,399.2 1228,401.2 1230.7,403 1233.2,404.6 1232.7,405.5 1234.8,407.9 1236.3,411.9 1237.8,411.1 1239.3,412.7 1240.2,412.1 1240.9,416.1 1243.5,418.4 1245.3,419.9 1248.2,422.9 1249.3,425.9 1249.3,428 1249.1,430.4 1250.9,433.5 1250.7,436.9 1250,438.6 1249,441.9 1249.1,444.1 1248.3,446.8 1246.7,450.2 1243.9,452 1242.5,454.9 1241.3,456.8 1240.2,460 1238.7,461.9 1237.8,464.7 1237.3,467.3 1237.5,468.5 1235.3,469.8 1231.1,469.9 1227.7,471.4 1225.9,472.9 1223.7,474.5 1220.6,472.8 1218.3,472.2 1218.9,470.2 1216.8,471 1213.5,473.7 1210.3,472.6 1208.2,472 1206,471.8 1202.4,470.7 1200,468.4 1199.3,465.5 1198.4,462.1 1196.6,462.1 1193,461.7 1194.2,459.9 1193.3,457 1191.5,459.7 1188.1,460.3 1190.1,458.3 1190.6,456.1 1192.1,454.3 1191.8,451.5 1188.8,454.7 1186.4,456 1185,459 1182,457.4 1182.2,455.4 1179.8,452.7 1177.8,451.3 1178.5,450.5 1173.7,448.2 1171.1,448.1 1167.5,446.2 1160.8,446.6 1155.9,447.9 1151.6,449.2 1148.1,448.9 1144.1,450.9 1140.8,451.7 1140.1,453.7 1138.7,455.2 1135.5,455.3 1133.2,455.6 1129.9,454.9 1127.2,455.4 1124.6,455.5 1122.4,457.5 1121.3,457.4 1119.4,458.4 1117.6,459.6 1114.9,459.5 1112.4,459.5 1108.3,457.1 1106.4,456.4 1106.4,454.2 1108.3,453.7 1108.9,452.8 1108.8,451.5 1109.2,448.9 1108.8,446.7 1106.8,442.9 1106.2,440.7 1106.4,438.6 1104.9,436.2 1104.8,435.1 1103.1,433.6 1102.7,430.6 1100.6,427.6 1100,426.1 1101.7,427.7 1100.4,424.2 1102.3,425.3 1103.4,426.8 1103.3,424.8 1101.5,421.9 1101.1,420.7 1100.2,419.5 1100.6,417.4 1101.4,416.5 1101.9,414.6 1101.5,412.4 1103.1,409.7 1103.4,412.6 1104.9,410 1108,408.8 1109.8,407.1 1112.7,405.8 1114.4,405.5 1115.4,405.9 1118.4,404.5 1120.7,404.1 1121.2,403.3 1122.2,402.9 1124.3,403.1 1128.2,401.9 1130.2,400.3 1131.2,398.3 1133.4,396.4 1133.6,394.9 1133.7,392.8 1136.3,389.7 1137.9,392.9 1139.5,392.1 1138.1,390.4 1139.3,388.5 1141,389.4 1141.4,386.5 1143.5,384.7 1144.4,383.2 1146.3,382.5 1146.3,381.5 1148,381.9 1148,381 1149.7,380.4 1151.5,379.9 1154.2,381.7 1156.4,383.9 1158.7,383.9 1161.1,384.3 1160.3,382.2 1162.1,379.2 1163.8,378.2 1163.2,377.3 1164.8,375.1 1167.1,373.8 1169,374.2 1172.2,373.5 1172.1,371.6 1169.3,370.4 1171.4,369.9 1173.8,370.8 1175.8,372.3 1179,373.3 1180,372.9 1182.4,374.1 1184.5,373 1186,373.3 1186.8,372.6 1188.6,374.4 1187.6,376.5 1186.2,378 1184.9,378.1 1185.3,379.6 1184.2,381.4 1182.9,383.3 1183.1,384.4 1186.1,386.4 1189,387.6 1190.9,388.9 1193.6,391.2 1194.7,391.2 1196.7,392.1 1197.2,393.3 1200.8,394.5 1203.3,393.3 1204,391.2 1204.8,389.6 1205.2,387.5 1206.4,384.5 1205.8,382.7 1206.1,381.6 1205.7,379.5 1206.2,376.6 1206.9,375.9 1206.3,374.7 1207.2,372.7 1208,370.6 1208,369.5 1209.4,368.1 1210.5,370 1210.8,372.3 1211.7,372.8 1211.8,374.4 1213.2,376.2 1213.5,378.4ZM1220.2,481.1 1224,482.2 1225.9,481.9 1228.9,481.1 1231.1,481.5 1231.5,486 1230,487.1 1229.6,490.1 1228.5,489 1225.9,491.6 1225.1,491.6 1222.5,491.2 1220.2,488.2 1219.9,485.6 1217.6,482.6 1217.6,480.7ZM1338.3,478.4 1336.9,480.4 1335,483 1332.2,484.5 1331.5,483.5 1329.9,482.9 1332.1,479.9 1330.9,477.8 1326.8,476.3 1326.9,474.9 1329.6,473.6 1330.3,470.7 1330.1,468.3 1328.6,465.8 1328.7,465.1 1326.9,463.6 1323.9,460.3 1322.4,457.6 1323.8,457.3 1325.8,459.4 1328.7,460.4 1329.8,463.7 1332.5,467.7 1332.6,465.1 1334.3,466.1 1334.9,469 1337.8,470.2 1340.4,470.5 1342.5,469.1 1344.4,469.5 1343.5,472.8 1342.4,475 1339.5,474.9 1338.5,476.1 1338.9,477.7ZM1311.3,491.5 1314.4,489.5 1316.7,487.5 1318.4,484.8 1319.8,483.8 1320.4,481.7 1323,480 1323.8,481.6 1324.7,483.1 1327.4,481.6 1328.4,483.2 1328.4,484.8 1327,486.5 1324.6,489.3 1322.7,490.8 1324.1,492.6 1321.2,492.6 1317.9,494 1317,496.5 1314.8,500.3 1311.9,502 1310,503 1306.5,503 1304.1,501.7 1300,501.4 1299.4,500.1 1301.4,497.3 1306.1,493.6 1308.6,492.9ZM860.8,374.9 861.8,376.5 862.7,379 863.3,383.5 864.3,385.2 863.9,387 863.2,388.1 862,385.9 861.3,387 862,389.8 861.6,391.4 860.6,392.3 860.4,395.4 858.9,399.8 857.1,405 854.7,412.1 853.3,417.3 851.6,421.6 848.5,422.6 845.3,424.1 843.1,423.2 840.1,421.8 839.1,419.9 838.9,416.5 837.6,413.6 837.2,410.9 837.9,408.2 839.6,407.5 839.6,406.2 841.4,403.4 841.7,401 840.9,399.2 840.1,396.9 839.9,393.4 841.2,391.3 841.7,388.9 843.5,388.8 845.6,388 847,387.3 848.7,387.3 850.8,385.2 853.9,382.8 855,381 854.5,379.3 856.1,379.8 858.2,377.2 858.2,375 859.5,373.3ZM981.7,299.9 981.1,303.8 979.6,304.9 976.3,305.7 974.5,302.8 973.9,297.4 975.6,291.3 978.2,293.4 979.9,296ZM733.1,184.9 732,187.9 732.4,189 731.6,190.9 728.6,189.4 726.8,189 721.5,187.1 722.2,185.2 726.4,185.6 730.5,185.2ZM709.5,173.6 711.8,176.2 711.4,181.1 709.5,181.1 708,182.2 706.5,181.1 706.5,176.6 705.8,174.4 707.6,174.8ZM711,169.9 709.5,172.9 708,172.1 706.9,169.5 707.6,168.4 710.2,166.9ZM763.9,194.2 765.8,195.4 768.8,195.4 771.8,195.4 771.4,196.1 773.6,195.8 773.2,196.9 767.6,197.2 767.6,196.5 763.1,195.8ZM797.6,196.5 798.4,195.4 801.4,195.4 804.8,194.2 802.5,196.9 798.8,198.4 796.9,198 796.1,196.5ZM850.1,160.8 853.8,157 857.4,156.3 859.1,154.1 862.6,153.3 867,151.7 870.1,152.6 873.9,152.4 874.6,154.8 873.9,158.4 870.6,157.8 867.4,158.4 867.3,161.2 863.7,160.8 863.8,162.1 865.8,163 867.5,166.4 871.9,167.7 872.6,169 871.7,170.5 871.9,171.4 873,173.8 873.5,171.1 876.5,170.2 877.5,172.3 880.3,174.6 877,175.8 873.5,174.8 872.6,178 875.1,178.2 874.1,180.8 877,182.1 876.5,186 877.2,188.6 876.9,189.5 871,190.5 865.6,189.9 863.1,188 859.5,187.2 858.3,184.4 858.2,182.6 859.6,181.7 860.2,180.4 860.9,177.4 864,177.2 862.8,176.1 861.1,176 859.2,173.3 857.2,171.3 853.1,166.9 853.5,164.4ZM933.4,510.4 936,511.5 939.4,512.2 939.8,512.8 938.6,514.5 932.8,514.9 932.6,512.6ZM722.6,119.6 720.4,122.6 716.2,120.4 715.9,118.9 721.5,117.8ZM-0.4,644.3 15.1,643 25.5,644.3 38.4,641.7 56.5,644.3 77.2,646.9 97.8,647.4 113.4,649 128.9,646.9 139.2,645.1 113.4,644.3 99.1,643 101.7,639.2 87.5,631.9 113.4,632.7 125,630.1 121.1,626.2 103,623.6 81,618.5 82.3,615.9 100.4,617.2 125,615.9 126.3,611.2 144.4,609.4 165.1,606.8 180.6,606.8 198.7,603 214.2,605.5 232.3,606.8 245.2,604.3 253,606.8 271.1,609.4 296.9,608.1 285.3,600.4 291.7,596.5 312.4,597.8 315,603 332.6,601.7M60.4,622.4 69.4,619.8 77.2,622.4 74.6,626.2 64.2,626.2ZM332.6,601.7 340.4,599.1 353.3,601.7 371.4,603 386.9,605.5 399.8,603 417.9,599.1 421.8,592.6 420.5,582.3 430.8,574.5 443.8,569.4 459.3,566.2 454.1,569.4 441.2,573.2 428.3,579.7 436,586.2 443.8,595.2 446.4,605.5 436,609.4 410.2,614.6 384.3,615.9 381.7,622.4 397.2,627.5 423.1,631.4 448.9,635.3 456.7,640.4 477.4,636.6 498.1,634 513.6,636.6 534.3,632.7 565.3,630.1 567.9,627.5 562.7,623.6 539.4,622.4 547.2,618.5 565.3,615.9 591.1,612 611.8,608.1 617,603 629.9,597.8 642.8,593.9 665.6,593.9M392.1,596.5 405,592.6 407.6,586.2 412.7,586.2 417.9,593.9 421.8,597.8 410.2,599.1ZM470.9,630.1 482.5,623.6 492.9,619.8 505.8,619.8 512.3,624.9 508.4,630.1 487.7,630.9ZM665.6,593.9 673.4,596.5 691.5,592.6 704.4,590 714.7,593.9 725.1,590.6 732.8,592.1 750.9,589.5 758.7,592.6 776.8,592.1 794.9,589.5 800,584.9 810.4,587.4 820.7,590 831.1,585.4 851.7,581 864.7,577.1 877.6,573.7 887.9,575 893.1,579.2 906,581.8 913.8,579.7 931.9,581.5 935.8,587.4 929.3,592.6 931.9,597.8 942.2,596.5 950,590 965.5,588 975.8,582.3 998.6,579.2M998.6,579.2 1003.8,577.1 1011.5,580.2 1032.2,580.2 1047.7,579.2 1060.6,573.2 1073.6,578.4 1086.5,577.1 1102,574.5 1122.7,579.7 1133,577.1 1153.7,577.1 1177,575.8 1180.9,571.9 1184.7,578.4 1218.4,578.4 1223.5,582.3 1252,586.2 1272.6,588.7 1295.9,592.6 1316.6,595.2 1315.3,600.4 1303.7,605.5 1290.7,609.4 1288.2,615.9 1293.3,621.6 1299.8,622.4 1280.4,624.9 1273.9,630.1 1283,634 1308.8,641.7 1330.8,644.3"/></defs>
<rect width="1500" height="3000" fill="#fff"/>

<text class="t" x="744" y="108.2" text-anchor="middle" textLength="973.5" lengthAdjust="spacingAndGlyphs">Combined (GIM), 2011-08-26 20:00 UT</text>
<g transform="translate(78.40,132.50)"><g clip-path="url(#cp)">
<rect x="0" y="0" width="1331.25" height="656.25" fill="#000096"/>
<path fill="#0000c8" d="M0,0 1331.2,0 1331.2,656.2 0,656.2ZM1035,479.9 1019,483.8 1000.9,484.8 994.9,485.7 960.9,494.7 921.5,500.2 866.8,514.4 857.1,518.2 846.8,523.8 840.8,525.8 834.8,526.3 820.8,525.9 802.8,530.1 784.7,530.7 778.7,531.7 766.4,536.2 760.7,539.9 757.5,544.2 756.6,548.2 757.1,550.2 758.2,552.2 760.7,554.2 766.7,555.2 772.4,554.2 782.7,550.9 802.8,549.2 820.8,545.6 848.8,543.9 856.8,545.4 866.8,550.5 872.8,552.7 878.8,553.5 882.8,553.2 886.8,552.2 890.8,550.2 902.8,541 922.9,537.4 938.9,529.2 958.9,522.6 964.9,521.4 980.9,521.3 996.9,516.9 1000.9,516.4 1017,517.5 1037,515.3 1057,518.4 1077,518.8 1095,524.1 1113,527.3 1127.1,532.3 1143.1,536.1 1165.1,542.7 1177.1,545.3 1189.1,546.5 1199.1,546.6 1207.1,545.7 1223.1,541.3 1230,538.2 1236,534.2 1239.9,530.2 1241.8,526.2 1241.9,522.2 1238.8,516.2 1234.5,512.2 1228.4,508.2 1219.1,504 1191.1,496.6 1169.1,493.3 1149.1,489.2 1117,484.1 1097,483.1 1075,480 1059,480.6 1041,479.5ZM1039,562.1 996.9,571.4 944.9,589.4 930.9,593.3 926.9,595.4 924.9,597.4 923.6,600.2 923.8,604.2 926.7,608.2 929.9,610.2 936.9,613 944.9,615.1 952.9,615.6 976.9,615 1008.9,618.6 1023,618.6 1049,615.6 1061,612.5 1095,597.8 1100.7,594.2 1104.1,590.2 1105.1,586.2 1103.8,582.2 1101,579.3 1097,577.1 1071,570.2 1051,563 1045,562Z"/>
<path fill="#0000f6" d="M0,0 1331.2,0 1331.2,656.2 1211.5,656.2 1216.6,652.2 1237.2,640.8 1253.2,630.2 1261.2,622.6 1265.2,616.1 1267.2,610.2 1268,604.2 1266.3,584.2 1267.4,574.2 1271.5,564.2 1284.3,544.2 1286.6,538.2 1287.4,534.2 1287.2,528.2 1285.2,522.2 1281.4,516.2 1277.3,512.2 1265.2,505.8 1255.2,499 1241.2,494.4 1231.2,488.8 1227.2,487.5 1213.1,485.7 1191.1,479.5 1155.1,473.3 1117,467.6 1075,464.1 1033,465.2 988.9,471.3 916.9,483.8 896.8,488.3 864.8,497 844.8,501.4 798.8,506.5 772.7,508.8 746.7,512.7 733.4,516.2 723.6,520.2 716.1,524.2 707.9,530.2 701.7,536.2 693.1,548.2 678.6,574.7 674.3,580.2 666.6,587.1 656.6,593.3 626.6,606 596.6,620.5 578.5,632.1 554.5,650.7 543.8,656.2 72.4,656.2 0,634.9Z"/>
<path fill="#0014ff" d="M0,0 1331.2,0 1331.2,589.9 1327.2,583.8 1323.2,574.2 1321.8,566.2 1321.7,552.2 1320.8,544.2 1318.4,536.2 1314.1,528.2 1307.3,520.2 1289.2,503 1283.2,499 1272.8,494.2 1261.2,485.8 1247.2,480.9 1237.2,475 1231.2,473 1215.1,472.4 1175.1,463.2 1153.1,460.6 1131.1,456.4 1091,452.7 1073,452.4 1031,453.7 1021,454.5 998.9,458.4 974.9,460.8 950.9,465.4 924.9,469.2 896.8,474.8 866.8,482.6 840.8,488.1 792.7,492.6 738.7,496.3 720.7,498.9 707,502.2 690.2,508.2 662.6,521.8 638.6,529.3 616.6,539.4 595.1,552.2 574.5,565.7 554.5,577 528.5,595.3 490.5,617.1 469.3,626.2 454.4,631.7 438.4,636.1 422.4,639.1 394.4,641.6 336.3,642.7 306.3,647.3 290.3,648.4 252.2,646.3 208.2,645.2 178.2,645.4 128.1,643.6 102.1,640.3 72.1,633.8 50,627 12,612.2 0,606.5ZM776.7,56 756.7,60.3 752.7,62.1 750.7,64 750.2,66 751.1,68 753.4,70 758.7,72.4 774.7,75.9 786.7,76.9 798.8,76.6 808.8,74.9 819.1,72 823.4,70 825.4,68 825.7,66 824.8,64.5 821.6,62 810.1,58 800.7,56 792.7,55.1 784.7,55.1ZM1000.9,67.8 980.9,70.6 966.9,74.2 958.9,77.3 954.2,80 950.1,84 948.8,88 949.5,92 952.1,96 954.1,98 956.9,100 964.9,104 976.9,108.1 994.9,110.6 1043,109.6 1053,110.6 1075,114.4 1105,113.2 1126.9,116 1133.1,116.2 1147.1,114.4 1154.5,112 1159.9,108 1162,104 1162.1,100 1159.1,94.4 1155.1,90.7 1149.1,87.2 1129.2,80 1105,74.3 1085,68.1 1071,66.6 1047,67.9 1019,66.4Z"/>
<path fill="#0040ff" d="M0,0 1331.2,0 1331.2,504 1307.2,494.6 1287.2,482.9 1280.9,478.2 1271.9,470.2 1264.2,462.2 1259.7,456.2 1255.3,448.2 1252.2,440.2 1245.2,415.4 1236.1,388.1 1232.8,376.1 1231.3,366.1 1230.9,356.1 1232.7,330.1 1232.5,322.1 1231.1,312.1 1227.2,300.7 1221.1,289 1213.1,276.5 1205.1,266.1 1197.1,257.8 1191.1,253.6 1183.1,250.1 1175.1,248.6 1167.1,248.6 1157.1,250.1 1147.1,252.7 1137.1,256.1 1127.1,260.6 1113,268.5 1097,281.2 1083,290.1 1078,296.1 1076.3,300.1 1075.5,304.1 1075.7,310.1 1078.6,324.1 1077.9,332.1 1074,342.1 1069,349 1061,356 1044.3,368.1 1031,378.9 1027,381.3 1019,383.9 994.4,388.1 989.8,390.1 987.3,392.1 986.3,394.2 986.9,396.6 990.9,399.2 994.9,400.2 1002.9,400.8 1010.9,400.3 1017,399.2 1033,393.4 1041,391.8 1049,391.8 1063,393.4 1077,393.2 1085,394.4 1105,401.5 1141.1,407.5 1149.1,409.8 1154.9,412.2 1164.5,418.2 1169,422.2 1172.1,426.2 1172.8,428.2 1172.5,430.2 1171,432.2 1167,434.2 1157.1,435.1 1139.1,433.3 1129.1,433.2 1107,435.4 1087,435.7 1065.6,438.2 1055,438.7 1047,438.4 1029,436.2 1021,436.2 1015,437 996.9,441.7 974.9,443.1 948.9,450.2 926.9,452.9 894.8,458.7 868.8,465.7 836.8,472.7 828.8,473.2 808.8,472.8 780.7,475.5 754.7,475 730.7,476.3 710.7,476.5 700.7,477.6 682.6,481.3 650.6,490.9 636.6,496.3 626.6,500.9 604.6,513.4 566.5,539.1 544.5,551.2 524.5,564.2 479.7,588.2 450.4,601.9 434.4,608.2 412.4,615 392.4,619 332.3,627.1 306.3,631.5 296.3,632.4 282.3,632.3 256.2,630.3 184.2,630.3 136.1,627.3 122.1,625.7 86.1,617.5 64.1,610.5 45.7,602.2 29.6,592.2 25.3,588.2 22.4,584.2 20.7,580.2 20,576.5 20.3,572.2 21.6,568.2 25.8,562.2 32,556.5 47,546.2 53.8,540.2 55.9,536.2 56.2,534.2 54.8,530.2 52,527.1 48.2,524.2 29.3,514.2 10.8,506.2 0,502.9ZM928.9,26 898.8,29.4 888.8,29.3 866.8,27.5 822.8,28.9 798.8,28.9 742.7,33.1 728.7,35.5 696.7,43.2 668.6,48.1 663.3,50 657.1,54 654.6,57.3 654.1,60 656.1,64 661.1,68 698.3,86 712.7,91 746.7,99.8 758.7,101.9 798.8,107.2 864.8,112 926.9,123.5 976.9,128.3 1033,129.7 1071,133.2 1105,135.1 1141.1,139.3 1151.1,139.8 1161.1,139.5 1171.1,137.8 1181.1,135.1 1189.6,132.1 1197.1,128.2 1205.3,122 1211.6,116 1215.9,110 1218.6,104 1219.6,96 1218.3,88 1213.9,78 1206.4,66 1198.1,56 1189.1,47.7 1181.1,42.5 1173.1,39.5 1161.1,37 1143.1,34.6 1089,30.9 1039,29.6 998.9,26.8 970.9,27.3Z"/>
<path fill="#0068ff" d="M104.8,0 861.2,0 820.8,5.4 786.7,7 724.7,12.4 648.6,21.6 618.6,26.4 568.5,38.6 540.5,44.7 532.5,44.7 516.5,42 510.5,42.3 506.7,44 505.6,46 505.8,48 508.8,52 518.8,58 538.2,66 555.5,72 617.1,88 660.6,97.3 672.6,101.2 696.7,110.5 708.7,114.2 770.7,127.8 792.7,131.2 848.8,137.2 906.9,145.1 928.9,147.4 974.9,148.9 1000.9,148.7 1027,149.4 1055,151.8 1079.2,152.1 1117,156.5 1139,162.1 1155.1,167.2 1161.1,168.2 1169.1,167.4 1175.1,165 1207.7,146.1 1249.2,124.4 1269.2,115.1 1283.2,110.5 1315.2,103.2 1331.2,97.7 1331.2,482.8 1325.2,480.9 1315.2,476.4 1299.2,466.6 1291.2,460 1281.2,450.4 1277.2,445.5 1272.5,438.2 1268.7,430.2 1264,416.2 1256.2,388.1 1252.2,370.1 1250.1,352.1 1251.1,328.1 1250.8,318.1 1248.4,302.1 1243.2,285.7 1221.1,230.7 1217.1,222.2 1213.1,216.4 1205.1,207.3 1197.1,199.9 1191.1,195.5 1185.1,192.5 1177.1,190.7 1171.1,190.8 1163.1,193 1151.1,199.3 1123.1,221 1115,229.3 1091.4,258.1 1085,263.6 1077,266.9 1057,272.2 1043,275 1023,277.8 1019,279.6 1015.7,282.1 1012.9,286.1 1010.8,294.1 1012.1,332.1 1011,342.1 1009,348.1 1006.7,352.1 1002.6,356.1 996.9,359.2 988.9,361.7 934.9,375.3 910.5,378.1 872.8,385.6 864.9,388.1 832.8,400.9 802.8,409.5 780.7,413.7 758.7,415.8 746.7,416.1 724.7,415.3 716.7,415.7 708.7,417.1 700.7,419.5 680.9,428.2 660.6,438.6 631.3,450.2 600.6,467.2 594.6,471 588.6,476.1 566.5,498.2 552.5,508.6 526.5,522.6 444.4,562.6 410.4,582 400.4,586.6 388.4,591.1 350.3,601.3 328.3,609 304.3,613.8 294.3,615 244.2,614.7 194.2,615.2 174.2,614.2 152.1,612.1 124.1,606.6 110.1,602.2 90.4,594.2 80.2,588.2 77.9,586.2 74.9,582.2 74.1,579.5 74,576.2 77.2,570.2 81.4,566.2 86.1,562.9 96.1,557.4 114.1,550.2 120.1,546.6 122.4,544.2 123.4,542.2 123.3,538.2 122.1,536.1 120.1,534.1 113.8,530.2 96.1,522.7 75.5,512.2 62.1,506.3 16,489.7 0,485.6 0,77.5 16,74.3 42,68 62.2,62 79.3,56 102,46 126.1,32 133.8,26 138.6,20 140.3,16 140.7,12 139.4,8 136.1,5.2 132.1,4.2 120.1,4.8 114.1,4.2 108.1,2.3ZM873.7,0 874.8,0 908.4,0 900.8,1.4 894.8,1.8Z"/>
<path fill="#0094ff" d="M369,44 380.4,44.2 390.4,46.8 410.4,56.9 432.4,65 452.4,75.2 472.4,83.9 508.5,93.6 552.5,99.6 582.5,102.5 638.6,112.2 661,118 690.6,131 702.7,135.4 774.7,156.1 796.7,160.7 834.8,167.3 914.9,178 922.9,179.9 928.2,182.1 934,186.1 938.9,192.1 941.7,198.1 945.4,210.1 948.8,216.1 960.9,224 963.8,228.1 965,232.1 964.9,237.1 963.4,242.1 958.9,251.1 957.3,256.1 956.9,262.1 957.8,268.1 961,278.1 965.8,288.1 972,298.1 982.9,312.2 986.5,318.1 988,324.1 986.9,330.4 984.9,333.6 982.1,336.1 978.5,338.1 972.9,340 962.9,341.9 938.9,344.7 910.9,349.5 868.8,358.8 850.8,364.3 812.8,378.8 790.7,384.7 776.7,386.4 764.7,386.3 754.7,385.2 730.7,380.9 720.7,380 712.7,380.6 706.7,382.2 694.1,388.1 672.6,402.9 658.6,411.3 634.6,422.1 608.6,435.5 578.6,446.2 568.5,450.9 551.6,462.2 530.8,482.2 517.1,490.2 510.5,492.8 498.4,496.2 462.4,503.2 436.4,509.7 426.4,512.8 418.4,516.2 410.9,520.2 390.4,534.3 380.6,540.2 372.3,543.7 364.3,545.5 356.3,545.6 348.3,543.9 340,540.2 324.3,530.6 314.3,527.6 308.3,527.2 290.3,528 274.3,527.5 258.2,529.4 250.2,529.6 216.2,523.5 188.2,519.4 160.2,512 142.1,505.2 120.5,502.2 114.1,500.7 96.1,494 78.1,489.2 58.1,480.9 38.1,476.2 20,469.4 0,464.8 0,123.4 6,121.8 38.7,110 116.1,80.6 156.1,70.5 178.2,66.9 210.2,63.7 232.2,62.7 254.2,59.9 264.2,59.9 282.3,61.1 304.3,59.5 328.3,59.5 336.3,57.4 356.3,47.2 362.3,45.2ZM1327.8,132.1 1331.2,131.2 1331.2,462.5 1325.2,459.7 1311.2,450.2 1297.2,444.2 1291.2,440.4 1285.7,434.2 1280.9,424.2 1273.2,398.2 1267,368.1 1265.8,350.1 1266.3,318.1 1264.9,304.1 1262.4,290.1 1246.2,228.1 1241.9,216.1 1231.9,194.1 1230.4,188.1 1229.9,182.1 1231.3,174.1 1233.2,170.1 1236.1,166.1 1243.1,160.1 1253.2,154.2 1263.2,149.8 1273.2,146.3 1309.2,137.7ZM170,574.2 176.2,573.5 210.2,573.1 240.2,576 242.2,576.4 244.3,578.2 243.4,580.2 241,582.2 233.9,586.2 228.6,588.2 214.2,591.8 202.2,592.4 192.2,591.2 180.2,588.7 172.2,586.2 167.9,584.2 165.4,582.2 164.3,580.2 164.5,578.2 166.2,576.1Z"/>
<path fill="#00c0ff" d="M367.4,76 378.4,75.3 388.4,76.9 417,86 442.4,96.6 462.4,102.5 476.4,105 494.5,109.1 514.5,111 534.5,115.2 552.5,116.3 572.5,120.3 592.6,123 608.6,126.6 630.6,130.6 655.1,140.1 696.7,162.3 748.7,182.9 760.7,188.7 773.5,196.1 787.8,206.1 802.8,219 805,222.1 809.2,232.1 811.7,236.1 817.9,242.1 824.2,246.1 834.8,250.2 862.8,257 878.8,261.8 886.8,265 892.8,268.5 898.8,273.5 902.8,278.1 908.4,288.1 910.1,294.1 910.6,300.1 910,306.1 907.9,312.1 903.8,318.1 899.2,322.1 892.9,326.1 884.7,330.1 874.8,334.1 836.8,347.2 806.8,358.8 788.7,364.3 778.7,365.7 766.7,365.7 752.7,363.6 722.7,356.5 714.7,356.2 706.7,357.9 698.7,361.4 686.6,368.6 663,386.1 656.7,390.1 612.6,412 600.6,417.2 560.5,431.7 530.5,441.4 512.5,448.1 486.5,453 454.4,461.8 430.4,465.7 406.4,471.4 384.4,473.3 370.3,475.1 342.3,474.4 322.3,475.9 302.3,478.7 284.3,485.1 274.3,487.1 244.2,489.4 231.9,488.2 226.2,486.1 222.2,482.9 213.6,470.2 207.4,464.2 200.8,460.2 190.1,456.2 176.2,452.2 164.2,449.7 128.1,446.6 76.1,437.9 34,426.6 0,416.1 0,142.8 26,135.8 68.1,127.5 88.1,125.1 126.1,122.5 142.1,120 154.1,116.3 174.2,106.7 181,104 212.2,97.4 238.2,94.4 258.2,91.3 278.3,90.1 298.3,87.6 322.3,86.4 342.3,82.8 358.4,78ZM1326.5,158.1 1331.2,156.8 1331.2,443.9 1327.2,441.9 1315.2,433.3 1303.3,426.2 1299.2,422.1 1296.8,418.2 1294.3,412.2 1285.1,382.1 1281.9,368.1 1279.9,354.1 1278,292.1 1275.4,266.1 1268.3,214.1 1267.5,204.1 1268.2,196.1 1270.2,190.1 1274.3,184.1 1278.6,180.1 1284.4,176.1 1292.1,172.1Z"/>
<path fill="#02e8f4" d="M23.8,154.1 48,153 62.1,153.5 82.1,155.5 130.1,162.3 158.1,164.3 174.2,163.9 206.2,161.1 250.2,158.9 316.3,159.4 346.3,162.7 374.4,168.5 408.4,172.1 436.4,176.8 482.5,178.9 498.5,178.6 512.5,176.8 556.5,163.4 574.5,160.2 584.5,159.6 604.6,159.6 620.6,160.8 632.6,162.4 652.6,166.8 662.6,170.3 672.6,176.5 690.6,189.2 710.7,200.7 738.7,221.3 742.7,225.6 752.7,239.3 758.6,244.1 764.7,247.6 792.7,260.5 857.5,282.1 866.4,286.1 869,288.1 872,292.1 873.2,296.1 872.9,300.1 870.8,304.6 866.8,309.1 859.9,314.1 852.6,318.1 843.9,322.1 818.8,332 792.7,339.8 778.7,341.8 766.7,341.8 754.5,340.1 734.7,335.3 726.7,334.1 718.7,334.5 708.7,337 698.7,341.6 677,354.1 655.2,370.1 644.6,377.1 602.6,398.9 554.5,418.7 508.5,432.4 478.4,437.4 448.4,445.8 424.4,449.7 402.4,454.9 390.4,456.4 354.3,458 332.3,457.6 314.3,458.9 296.3,457.8 280.3,458.6 236.2,453.4 168.2,440 146.1,437.5 90.1,427.7 50,417 6,401.8 0,400.2 0,157.6ZM1329.8,182.1 1331.2,181.6 1331.2,425.8 1327.2,423 1324.5,420.2 1316.9,410.2 1311.2,399.3 1301.2,376.3 1297.2,363.5 1294.3,350.1 1292,322.1 1292.1,294.1 1293.3,268.1 1298.9,224.1 1301.2,212.3 1304.6,204.1 1310.9,196.1 1321.2,187.2Z"/>
<path fill="#26ffd1" d="M577.9,182.1 606.6,180.9 626.6,181.9 640.6,183.4 650.6,185.1 658.6,187.3 664.6,190.1 672.6,195.9 686.6,210.8 696.4,220.1 700.7,226.9 713.6,280.1 714.6,290.1 714.2,298.1 712.9,304.1 710.2,310.1 707.3,314.1 701.2,320.1 688.4,330.1 664.6,344.7 644.6,359.3 634.6,365.3 612.6,376.3 588.7,390.1 544.5,410 500.5,423.2 476.4,427.7 446.4,435.6 420.4,439.3 394.4,445.4 384.4,446.2 370.3,445.9 350.3,447.7 314.3,447.5 272.3,445.5 258.2,443.8 242.2,443.1 228.2,440.9 216.2,440.3 202.2,438.7 168.2,432.8 148.1,430.4 104.1,422.7 90.1,419.4 54.1,408.9 32,400.9 6,390.3 0,388.5 0,202.3 14,199 44,193.7 78.1,189.4 106.1,187.8 132.1,188.3 176.2,191.1 214.2,191.5 228.2,190.9 256.2,187.2 286.3,189 324.3,187.8 332.3,188.4 382.4,194.8 410.4,196.5 434.4,200 462.4,199.1 488.5,199.9 506.5,197.7 552.5,186.4ZM1330.8,242.1 1331.2,241.6 1331.2,387.9 1327.2,383.1 1322,374.1 1314.1,356.1 1310.4,342.1 1308.3,322.1 1309.5,294.1 1313.7,274.1 1316.6,266.1 1321.2,256.8 1327.2,246.7Z"/>
<path fill="#49ffad" d="M583.9,196.1 604.6,195.1 628.6,196.4 638.6,197.6 648.6,199.4 656.6,202 660.6,204.3 664.6,208.1 666.7,212.1 668,216.1 669.8,236.1 675.9,256.1 679.5,274.1 680.3,284.1 680.2,292.1 679.1,300.1 676.6,308.1 671.4,318.1 664.7,326.1 648.4,340.1 637,348.1 628.6,352.4 608.6,360.4 582.5,378 544.5,397.7 499,414.2 444.4,427 422.4,430.6 398.4,435.9 388.4,437.5 370.3,437.6 352.3,439.2 338.3,439.3 244.2,435 230.2,433.3 214.2,432.8 200.2,431.3 184.2,428.6 146.1,423.8 100.1,415.5 72.1,407.5 52,400.8 0,378.6 0,237 18,231.9 48,221.2 80.1,212.7 98.1,208.9 110.1,207.2 128.1,205.8 142.1,205.6 206.2,207.1 246.2,202.4 258.2,201.8 282.3,203.6 308.3,202.9 336.3,206.6 364.3,207.2 432.4,211.9 462.4,210.5 488.5,211.7 514.5,209.1 554.5,201.6 572.5,197.5ZM1330.4,282.1 1331.2,280.7 1331.2,346.8 1329.2,343.4 1326.8,336.1 1325.2,327.6 1324.6,318.1 1325.9,296.1 1327.8,288.1Z"/>
<path fill="#6aff8d" d="M596.9,210.1 608.6,210 632.6,212.4 638.6,214.1 643,216.1 646.6,218.9 648.6,222.1 650,228.1 652.4,248.1 653.3,292.1 651.6,306.1 649.7,312.1 646.3,320.1 642.6,326.1 639.2,330.1 634.7,334.1 630.6,336.7 624.6,339.3 610.6,343.2 604,346.1 578.5,363.6 540.5,386.6 522.5,394 502.5,403.8 488.5,408.7 408.4,426.2 384.4,429.9 350.3,431.4 336.3,431.4 300.3,429.1 246.2,427.7 210.2,425.5 146.1,418.1 118.1,413.4 96.1,408.7 72.1,401.5 50,393.5 32,385.4 0,369.2 0,264.7 16,259 28,253.9 62.1,235.6 76.5,230.1 90.1,225.8 107.8,222.1 118.1,220.6 150.1,218.7 174.2,218.2 190.2,217 208.2,217.1 232.2,213.4 246.2,212.5 278.3,213.4 304.3,213 336.3,217.7 380.4,218.4 416.4,220.4 458.4,219.4 504.5,219.5 534.5,217.4 556.5,217.5 564.5,216.4 580.5,211.9Z"/>
<path fill="#8dff6a" d="M233.1,222.1 242.2,221.7 272.3,222.4 300.3,221.4 350.3,227.2 384.4,227.4 406.4,229 416.4,228.8 436.4,227.3 462.4,227.5 486.5,226.8 508.5,227.8 528.5,228 540.5,229.1 580.5,234.8 590.6,238.3 606.6,247.4 612.6,252.7 622.9,266.1 628.4,276.1 631.8,288.1 633,300.1 632.2,310.1 630.4,316.1 628.4,320.1 625.1,324.1 622.5,326.1 596.6,338 540.5,374.8 498.5,396.6 489.5,400.2 480.5,402.6 458.4,406.7 404.4,419.1 382.4,422.2 338.3,423.7 298.3,421.2 248.2,420.4 216.2,419 152.1,413 122.1,408.6 102.1,404.6 90.1,401.4 73.3,396.2 54.1,389 36,380.6 17.5,370.1 11.4,366.1 0,356.9 0,311.4 4.6,304.1 9.7,298.1 16,293 38,280.2 46,274.7 64.1,257.7 74.4,250.1 82.1,246.1 90.1,242.9 102.1,239.4 114.1,236.9 152.1,231.5 174.2,229.9 192.2,227 212.2,226.4Z"/>
<path fill="#b1ff46" d="M291.2,230.1 304.3,230.3 348.3,236.1 364.3,237.2 406.4,237.6 438.4,235.4 490.5,235.1 528.5,238.2 554.5,243.1 570.5,247.2 580.5,251.2 592.9,258.1 602.6,266.1 610.7,276.1 614.6,284.1 617,296.1 616.5,306.1 615.3,310.1 613.3,314.1 609.9,318.1 605.1,322.1 584.5,334.8 533.9,368.1 510.5,381.4 496.5,388.6 488.5,391.9 480.5,394.3 454.4,398.9 402.4,411.3 380.4,414.5 356.3,415.7 338.3,415.9 296.3,413.3 218.2,411.9 184.2,410.2 168.2,408.2 150.1,406.8 124.1,403.3 102.1,398.9 90.1,395.7 72.9,390.1 56.1,383.6 40,375.7 25.3,366.1 18.3,360.1 14.5,354.1 12.3,346.1 12.5,336.1 15.3,328.1 20,321.3 26,315.9 36,309.4 55.1,300.1 61.2,296.1 69.2,288.1 77.6,276.1 82.5,270.1 89.8,264.1 98.1,259.6 112.1,254 124.1,250.9 142.1,248.1 158.1,244.9 178.2,242.5 196.2,238.9 216.2,236.9 234.2,233 242.2,232.2 270.3,231.8Z"/>
<path fill="#d1ff26" d="M286.3,240.1 296.3,239.4 306.3,239.8 344.3,245 370.3,247.1 408.4,246.7 438.4,244.3 486.5,244.2 512.5,246.2 537.3,250.1 553.9,254.1 566.5,258.3 578.1,264.1 588.6,271.4 594.8,278.1 599.4,286.1 601.4,294.1 601,304.1 598.8,310.1 594.6,316.2 590.3,320.1 570.5,334.5 517.1,368.1 494.5,379.9 480.5,384.9 448.4,391 400.4,402.8 378.4,406.3 356.3,407.5 338.3,407.7 292.3,404.9 232.2,404.8 188.2,403.6 152.1,400.3 124.1,396.9 104.1,393.1 90.1,389.4 80,386.1 60.1,378.3 48.2,372.1 38.9,366.1 32.4,360.1 28.5,354.1 26.9,348.1 27.1,342.1 28.9,336.1 33.2,330.1 38,326.1 44,322.7 70.1,312.7 80.1,307.3 83.7,304.1 86.9,300.1 94.1,287.5 98.1,281.9 106.1,274.7 114.1,270 124.6,266.1 142.1,261.6 198.2,251.2 218.2,248.5 242.2,244.2Z"/>
<path fill="#f4f802" d="M292.8,250.1 312.3,250.2 336.3,253.4 370.3,256.4 408.4,255.5 434.4,253.2 466.4,252.8 500.5,254.5 520.5,257.2 536.5,260.7 548.5,264.2 558.5,268.3 568.5,274.1 575.6,280.1 581.5,288.1 584.3,296.1 584.1,304.1 582.7,308.1 578.7,314.1 571.2,322.1 564.4,328.1 542.5,341.1 514.5,358.9 492.5,370.2 482.5,373.8 458.4,379.9 442.4,382.8 426.4,387.5 390.4,395.2 374.4,397.3 356.3,398.4 338.3,398.7 288.3,396 228.2,396.8 192.2,396 152.1,392.6 126.1,389.7 99.3,384.1 86.2,380.1 76,376.1 63.5,370.1 54.1,364.1 49.7,360.1 46,354.1 45.4,348.1 46.6,344.1 49.6,340.1 54.1,336.9 64.1,333 96.1,324.6 106.5,320.1 112.1,316.4 117.4,310.1 122.6,296.1 127.6,288.1 134.6,282.1 145.9,276.1 160.2,271.7 200.2,263.1 222.2,260.2 246.2,256Z"/>
<path fill="#ffd000" d="M304.6,260.1 320.3,260.4 358.3,264.3 370.3,265 392.4,264.5 434.4,261.8 462.4,261.6 482.5,262.5 508.5,265.3 522.2,268.1 532.5,271.1 542.5,275.2 551.3,280.1 558.4,286.1 562.6,292.1 564.5,298.1 564.2,304.1 562.1,310.1 558.5,316 554.9,320.1 550.1,324.1 509.5,350.1 488.5,360.7 472.4,365.2 456.4,371.5 442.4,373.2 426.4,378.3 408.4,380.5 378.4,386.1 350.3,388 328.3,387.9 306.3,386.4 286.3,386 224.2,388.1 204.2,387.6 184.2,386.2 132.1,380.5 114.1,377 105,374.1 90.5,368.1 83.8,364.1 79.9,360.1 79,358.1 78.8,356.1 80.1,353.2 82.1,351.3 86.1,349.1 95.2,346.1 130.1,337.1 138.1,334 144.6,330.1 148.5,326.1 150.7,322.1 152.1,316.5 153.9,304.1 157.1,296.1 162.9,290.1 173.9,284.1 190.2,278.3 202.2,275.3 232.2,271.6 285.1,262.1Z"/>
<path fill="#ffab00" d="M310.3,270.1 330.3,270.1 354.3,273.3 366.3,274 384.4,274 414.4,271.6 440.4,270.5 468.4,270.9 492.5,273.1 504.5,275.2 514.5,278 524.5,281.9 530.5,285.3 536.6,290.1 539.8,294.1 541.6,298.1 541.8,304.1 540.5,308.1 538,312.1 527.7,322.1 520.5,328.1 509.4,336.1 496.5,344.1 484.5,350.6 468.4,355.9 456.4,361.7 440.4,363.7 426.4,368.3 410.4,369 388.4,371.5 366.3,372.9 348.3,373.3 306.3,371.8 272.3,373.9 244.2,376.9 224.2,377.1 211.7,376.1 200.2,373.8 189.4,370.1 185.3,368.1 180,364.1 178.7,362.1 178.2,358.1 183,346.1 185,338.1 185.9,328.1 185.8,308.1 188.1,302.1 190.2,299.6 194.2,296.3 202.2,292.3 208.2,290.7 240.2,286.7 278.3,275.7 295.3,272.1Z"/>
<path fill="#ff8200" d="M314.6,282.1 330.3,281.5 352.3,284.9 362.3,285.5 384.4,284.8 406.4,281.8 416.4,281.1 454.4,280.9 476.4,282.2 492.5,284.8 500.5,287.5 506,290.1 510.5,293.2 513.5,296.1 515.7,300.1 516.3,304.1 515.3,308.1 513.1,312.1 503.8,322.1 494.6,330.1 479.4,340.1 454.4,351 426.4,356.4 410.4,357.2 386.4,355.8 368.3,352.5 352.3,352 334.3,349.6 308.3,348.1 294.3,349.1 262.2,357.3 248.2,359.4 240.2,359.4 232.9,358.1 227.8,356.1 224.2,353.1 222.5,350.1 221.7,346.1 222.6,338.1 226.2,330.1 229.4,326.1 233.8,322.1 240.2,317.7 256.2,309.3 272.5,298.1 282.9,292.1 298.3,286 306.3,283.7Z"/>
<path fill="#ff5900" d="M405.8,296.1 440.4,295.7 460.4,296.2 470.4,297.3 478.4,299.1 484.8,302.1 487.9,306.1 488.5,310.1 486.4,316.1 481.4,322.1 473.6,328.1 464.4,333.5 454.4,337.7 446.4,340.1 422.4,342.5 414.4,342.3 406.4,341 398.4,339 391,336.1 380,330.1 367.2,322.1 362.1,318.1 359.1,314.1 358.8,312.1 359.5,310.1 361.5,308.1 369.3,304.1 393.6,298.1Z"/>
<use href="#coast" class="c"/></g>
<rect class="f" x="0" y="0" width="1331.25" height="656.25"/></g>
<g transform="translate(78.40,831.90)">
<rect x="0.00" y="0" width="56.07" height="65.4" fill="#000096"/><rect x="55.47" y="0" width="56.07" height="65.4" fill="#0000c8"/><rect x="110.94" y="0" width="56.07" height="65.4" fill="#0000f6"/><rect x="166.41" y="0" width="56.07" height="65.4" fill="#0014ff"/><rect x="221.88" y="0" width="56.07" height="65.4" fill="#0040ff"/><rect x="277.34" y="0" width="56.07" height="65.4" fill="#0068ff"/><rect x="332.81" y="0" width="56.07" height="65.4" fill="#0094ff"/><rect x="388.28" y="0" width="56.07" height="65.4" fill="#00c0ff"/><rect x="443.75" y="0" width="56.07" height="65.4" fill="#02e8f4"/><rect x="499.22" y="0" width="56.07" height="65.4" fill="#26ffd1"/><rect x="554.69" y="0" width="56.07" height="65.4" fill="#49ffad"/><rect x="610.16" y="0" width="56.07" height="65.4" fill="#6aff8d"/><rect x="665.62" y="0" width="56.07" height="65.4" fill="#8dff6a"/><rect x="721.09" y="0" width="56.07" height="65.4" fill="#b1ff46"/><rect x="776.56" y="0" width="56.07" height="65.4" fill="#d1ff26"/><rect x="832.03" y="0" width="56.07" height="65.4" fill="#f4f802"/><rect x="887.50" y="0" width="56.07" height="65.4" fill="#ffd000"/><rect x="942.97" y="0" width="56.07" height="65.4" fill="#ffab00"/><rect x="998.44" y="0" width="56.07" height="65.4" fill="#ff8200"/><rect x="1053.91" y="0" width="56.07" height="65.4" fill="#ff5900"/><rect x="1109.38" y="0" width="56.07" height="65.4" fill="#ff3400"/><rect x="1164.84" y="0" width="56.07" height="65.4" fill="#f60b00"/><rect x="1220.31" y="0" width="56.07" height="65.4" fill="#c40000"/><rect x="1275.78" y="0" width="55.47" height="65.4" fill="#960000"/>
<rect class="f" x="0" y="0" width="1331.25" height="65.4"/>
<rect x="-1.67" y="65.4" width="3.33" height="15.6" fill="#000"/>
<text class="k" x="0.00" y="126.4" text-anchor="middle" textLength="65.2" lengthAdjust="spacingAndGlyphs">0.0</text>
<rect x="164.74" y="65.4" width="3.33" height="15.6" fill="#000"/>
<text class="k" x="166.41" y="126.4" text-anchor="middle" textLength="65.2" lengthAdjust="spacingAndGlyphs">7.5</text>
<rect x="331.15" y="65.4" width="3.33" height="15.6" fill="#000"/>
<text class="k" x="332.81" y="126.4" text-anchor="middle" textLength="91.7" lengthAdjust="spacingAndGlyphs">15.0</text>
<rect x="497.55" y="65.4" width="3.33" height="15.6" fill="#000"/>
<text class="k" x="499.22" y="126.4" text-anchor="middle" textLength="91.7" lengthAdjust="spacingAndGlyphs">22.5</text>
<rect x="663.96" y="65.4" width="3.33" height="15.6" fill="#000"/>
<text class="k" x="665.62" y="126.4" text-anchor="middle" textLength="91.7" lengthAdjust="spacingAndGlyphs">30.0</text>
<rect x="830.37" y="65.4" width="3.33" height="15.6" fill="#000"/>
<text class="k" x="832.03" y="126.4" text-anchor="middle" textLength="91.7" lengthAdjust="spacingAndGlyphs">37.5</text>
<rect x="996.77" y="65.4" width="3.33" height="15.6" fill="#000"/>
<text class="k" x="998.44" y="126.4" text-anchor="middle" textLength="91.7" lengthAdjust="spacingAndGlyphs">45.0</text>
<rect x="1163.18" y="65.4" width="3.33" height="15.6" fill="#000"/>
<text class="k" x="1164.84" y="126.4" text-anchor="middle" textLength="91.7" lengthAdjust="spacingAndGlyphs">52.5</text>
<rect x="1329.59" y="65.4" width="3.33" height="15.6" fill="#000"/>
<text class="k" x="1331.25" y="126.4" text-anchor="middle" textLength="91.7" lengthAdjust="spacingAndGlyphs">60.0</text>
</g>
<text class="t" x="744" y="1093.1" text-anchor="middle" textLength="1227.0" lengthAdjust="spacingAndGlyphs">Ionosphere&#160;&#160;(h=450.0 km), 2011-08-26 20:00 UT</text>
<g transform="translate(78.40,1117.40)"><g clip-path="url(#cp)">
<rect x="0" y="0" width="1331.25" height="656.25" fill="#000096"/>
<path fill="#0000c8" d="M0,0 1331.2,0 1331.2,656.2 0,656.2ZM1153.1,221.9 1137.1,225.6 1130.8,228.1 1125.1,231.3 1113.4,240.1 1097,256.2 1091,261.4 1083,266.6 1073,271.2 1059,275.2 1043,277.7 1029,278.6 1013,277.8 1006,278.1 1000.9,279.3 996.1,282.1 994.3,284.1 992.8,288.1 992.8,290.1 994.1,294.1 996.8,298.1 1006.9,307.9 1011.9,314.1 1015.9,322.1 1017,330.1 1015.4,338.1 1010.8,346.1 998.9,357.5 992.4,362.1 986.9,364.4 980.9,365.9 962.9,367.8 942.9,371.2 924.9,372.8 904.8,376.3 882.3,378.1 853.7,384.1 846.8,386.5 802.8,407 794.7,409.6 778.7,412.8 768.3,416.2 761,420.2 759.6,422.2 759.9,424.2 762.1,426.2 766.4,428.2 776.7,430.5 782.7,430.7 798.8,429.4 820.8,430.5 844.8,425.3 874.8,424.1 902.8,419 922.9,416.2 942.9,411.6 964.9,410.2 982.9,405.8 1002.9,402.6 1035,394.4 1043,393.3 1061,394.5 1081,393.2 1087,394.1 1103,398.3 1121.1,399 1129.1,401 1143.1,407.9 1149.1,409.8 1177.1,413.5 1213.1,413.6 1219.1,412.7 1225.2,410.3 1231.2,406.1 1236,400.2 1239,392.1 1240,384.1 1239.7,374.1 1236.5,346.1 1236.4,312.1 1234.9,304.1 1229.6,286.1 1225.2,276.9 1217.1,263 1201,240.1 1193.1,231.7 1185,226.1 1175.1,222.4 1165.1,221.3ZM1027,474 1015,476.5 998.9,478.1 980.9,483.4 962.9,485.1 946.9,488.6 938.9,489.2 924.9,489 916.9,490.2 902.5,494.2 884.8,502.5 862.8,510.8 824.8,521.7 818.8,522.3 806.3,522.2 788.7,524.3 772.7,524.5 766.7,525.4 760.2,528.2 755.4,532.2 753.3,536.2 753.4,540.2 755.7,544.2 760.7,548.1 766.7,550.3 776.7,552.5 782.7,552.8 788.7,552 800.8,548.7 816.8,543.4 824.8,542.7 830.8,543.5 844.8,546.7 868.8,556.2 874.8,557.3 878.8,557.2 886.8,554.7 898.4,546.2 902.8,543.9 936.9,534.8 951.2,528.2 976.9,518.8 998.9,514.1 1027,512.2 1045,513.3 1057,515.5 1075,521 1092.4,528.2 1100,532.2 1105,536.9 1106.8,540.2 1107.1,542.2 1106.7,544.2 1105,546.7 1103,548.4 1099.2,550.2 1093,551.7 1049,556.4 1021,558.7 992.9,557.7 976.9,559.3 954.9,564 930.9,572.8 910.9,576.6 888.8,582.9 876.8,584.9 856.8,585.7 824.8,593.6 814.8,593.6 794.7,589.5 788.7,588.9 782.7,589.5 768.7,593.6 754.7,591.6 746.7,591.9 740.7,593.5 732.7,596.9 703.7,614.2 699.9,618.2 699.1,622.2 699.9,624.2 703.9,628.2 714.7,635.3 726.7,644.7 732.7,647.5 740.7,648.9 750.7,647.6 772.7,639.7 792.7,636.8 810.8,632.7 816.8,632 826.8,632.9 846.8,639.4 856.8,641.9 864.8,643.2 874.8,643.7 884.8,643 896.8,641 936.9,629.8 950.9,627.2 966.9,626.9 1008.9,629.9 1023,629.5 1035,627.9 1073,621.1 1117,607.8 1137.1,602.8 1145.1,600 1171.1,588.4 1183.1,582.4 1211.1,566.6 1224.1,558.2 1231.2,552.6 1237.2,546.5 1241.6,540.2 1244.3,534.2 1245.2,528.2 1244.7,524.2 1243.2,520.1 1238.9,514.2 1231.7,508.2 1221.1,501.4 1211.1,496.1 1203.1,493.1 1195.1,491.4 1187.1,490.6 1157.1,489.7 1149.1,488.4 1129.1,483.6 1123.1,483.4 1109,484.6 1101,484.2 1095,482.9 1079,477.1 1073,475.8 1059,474.9 1039,472.3Z"/>
<path fill="#0000f6" d="M0,0 1331.2,0 1331.2,656.2 1290.2,656.2 1296.6,624.2 1297.2,618.2 1296.2,608.2 1289.4,586.2 1287.5,574.2 1287.9,562.2 1292.2,538.2 1292.1,530.2 1291,524.2 1287.8,516.2 1282.4,508.2 1271.1,496.2 1249.2,477.5 1243.9,470.2 1240.7,462.2 1239.7,456.2 1239.5,450.2 1241.4,430.2 1245.1,420.2 1253.2,408 1257,400.2 1259.2,390.1 1259.5,378.1 1254.8,348.1 1253.2,318.1 1251.3,306.1 1244.6,280.1 1235.4,258.1 1227.9,242.1 1223.1,224.1 1220.6,220.1 1213.2,214.1 1193.1,201.9 1181.1,196.4 1171.1,193.3 1151.1,190.1 1133.1,185.8 1119.1,184.4 1093,185.4 1047,185.1 1002.9,187.9 992.9,189.1 960.9,194.5 942.9,199.1 914.9,209.3 908.9,212.7 905,216.1 903.7,218.1 902.6,222.1 903.1,226.1 904.6,230.1 908.2,236.1 923.7,256.1 937.2,282.1 942.6,290.1 950.9,298.6 966.9,308.4 978.9,317.2 989.7,324.1 993.6,328.1 994.6,332.1 993,336.1 990.8,338.1 984,342.1 968.9,348.6 950.9,353.1 910.9,360 876.8,363.7 858.8,367.1 848.8,369.9 826.8,377.9 804.8,384.1 794.7,386.3 782.7,387.6 764.7,388 728.7,386.3 716.7,387.9 704.7,392.9 688.8,402.2 678.3,410.2 654.6,430.4 636.5,442.2 629.5,450.2 627.5,454.2 626.6,458.2 627,462.2 628.6,466.2 630.6,469 634.6,472.8 642.6,477 656.6,480.8 672.6,483.3 699.4,486.2 704.2,488.2 705.7,490.2 706,492.2 703.3,498.2 678.6,531.3 671.3,542.2 668,548.2 665.1,556.2 663.2,566.2 661.3,598.2 659.7,602.2 656.6,606.2 652.6,609.3 648.6,611.4 638.6,613.9 616.6,616.4 602.6,619.9 586.6,626.1 562.5,637.7 550.5,642.8 510.5,656.3 58.3,656.2 24,646.4 0,638.2ZM980.9,75.9 970.1,78 958,82 950.5,86 945.8,90 942.9,94.3 941.7,100 942.9,104.6 946.9,110.2 950.9,113.5 956.9,117.2 968.9,121.7 984.9,124.3 1010.9,125.9 1033,125.5 1055,126.2 1085,121.3 1093,120.6 1119.1,121.7 1123.1,121 1127.1,119.2 1129.1,117.3 1130.4,114 1129.5,110 1128.1,108 1123.8,104 1117.6,100 1095,91 1071,80.2 1061,76.9 1051,75.1 1041,74.5 998.9,74.4ZM1065.4,414.2 1077,413.2 1082.9,414.2 1101,418.9 1123.1,419.4 1129.1,421.4 1143.1,429.5 1153.1,432.6 1161.1,433.1 1173.1,432.1 1179.1,432.3 1184.1,434.2 1187.1,436.5 1189.3,440.2 1189.4,444.2 1186.4,450.2 1181.1,454.7 1173.1,458.5 1163.1,460.2 1127.1,460 1101,456.6 1079,455 1071,453.4 1047,445.6 1039,444.1 1033,443.7 1021,445.4 998.9,452.8 978.9,454.4 962.9,457.2 926.9,458.4 908.9,458.3 904.8,459.1 900.8,460.9 884,474.2 862.1,486.2 850.3,490.2 828.8,494.1 818.8,493.9 793.2,490.2 764.5,482.2 760.4,480.2 758.3,478.2 758.2,476.2 759.6,474.2 765.5,470.2 806.8,455.6 826.8,453.1 842.8,449.3 848.8,448.5 856.8,448.7 880.8,451.3 890.8,451.4 898.8,450.6 906.9,448.7 925,440.2 946.2,434.2 952.9,433.5 966.9,434 972.9,433.4 980.9,431 992.9,425.5 998.9,423.6 1019,422.2 1039,415.4 1057,415.1Z"/>
<path fill="#0014ff" d="M0,0 1331.2,0 1331.2,511.9 1307.2,496.1 1291.2,483 1284.2,476.2 1277.4,468.2 1273.4,462.2 1271.6,458.2 1270.2,452.2 1270.3,444.2 1272.5,434.2 1279,414.2 1279.9,408.2 1279.7,400.2 1278.2,388.1 1271,348.1 1269.4,318.1 1266.2,284.1 1259.3,258.1 1253.5,230.1 1251.6,224.1 1248.8,218.1 1241.2,207.4 1233.2,200.3 1218.9,192.1 1210.8,186.1 1201.1,176.1 1194.3,166.1 1190.9,158.1 1188.9,148.1 1188.5,138.1 1189.3,120 1188.3,110 1185.1,99.9 1179.1,90 1173.3,84 1165.1,77.2 1157.1,71.6 1149.1,67.2 1131.1,58.8 1121.1,54.9 1093,47.5 1077,44.6 1049,41.6 996.9,33.5 966.9,33.2 936.9,34.6 918.9,36.8 880.8,43.7 866.8,44.3 844.8,43.4 833.8,44 797.2,48 768.7,53.2 740.7,56.4 730.7,58.5 721.8,62 717.7,66 716.7,70 718.7,75.8 722,80 726.8,84 734.2,88 754.9,96 776.7,101.8 790.7,106.3 810.6,114 823,120 830.8,125.4 838,132.1 844.4,140.1 848.9,148.1 851.2,156.1 850.9,166.1 847.8,176.1 842.8,184.9 833.4,196.1 822.8,205.8 812.8,212.9 798.8,219.2 795.4,222.1 792.9,226.1 790.5,234.1 790.3,242.1 792.1,248.1 796.2,254.1 800.8,258.1 807.2,262.1 812.8,264.6 820.8,266.9 836.8,268.6 858.8,267.9 866.8,268.3 874.8,269.7 882.8,272.9 888.8,276.8 894.5,282.1 897.3,286.1 903.3,298.1 906.9,302.3 913.2,306.1 936.8,316.1 950.2,324.1 952.9,327.3 953.3,330.1 952.2,332.1 949.6,334.1 944.2,336.1 930.9,339.1 912.9,344.6 890.8,346.9 872.8,350.4 852.8,352.6 828.8,360.2 792.7,367.7 780.7,368.2 764.7,367.6 754.7,366.5 730.7,362.5 722.7,362.1 716.7,362.7 704.7,366.4 678.6,377.8 670.6,382.1 662.6,387.8 643.1,404.2 626.6,416.8 598.6,441 588.6,447.1 574.5,452.3 571.5,454.2 569.7,456.2 567.2,462.2 567,466.2 567.7,470.2 570.4,476.2 579,490.2 580.9,496.2 581.7,504.2 581.3,514.2 577.2,544.2 575.2,554.2 572.4,562.2 568.1,570.2 562.1,578.2 552.5,588.1 542.7,596.2 531.1,604.2 520.5,610.1 508.5,615.4 496.5,619.5 458.4,629.6 420.4,636.5 364.3,642.4 334.3,644.6 306.3,649.4 256.2,653.9 242.2,653 208.2,647.1 170.2,647.5 108.1,642.8 93.7,640.2 72.1,635.1 55.3,630.2 40,624.9 18,615.2 0,604.3Z"/>
<path fill="#0040ff" d="M0,0 2,0 1249.6,0 1238.5,2 1207.1,4.5 1183.1,4 1141.1,5.5 1101,4.8 1049,6.8 1000.9,6.6 966.9,5.1 938.9,6.3 922.9,8.2 908.9,10.7 882.8,17.8 872.8,19.7 862.8,20.3 836.8,19.9 822.8,20.4 748.7,29.6 712.7,33.3 699.7,36 686.3,40 657.3,50 644.4,56 640.3,60 639.8,64 642.1,68 646.9,72 660.6,80 678.6,87.1 684.6,90.2 694.7,96.9 712.7,110.7 718.7,114.4 726.7,117.9 742.7,123 749.2,126 761.3,134.1 765.8,138.1 768.8,142.1 770.7,146.1 771.9,152.1 771,162.1 768.4,170.1 758.3,194.1 753.7,212.1 750.7,216.4 738.7,226.1 726.7,240.5 722.7,246.4 719.8,252.1 718.6,256.1 718.3,260.1 719.2,264.1 721.4,268.1 725.1,272.1 730.7,275.7 736.7,277.9 754.7,281.2 764.7,284.1 778.4,290.1 787.1,296.1 791.7,302.1 793.2,306.1 793.8,310.1 792.8,318.1 788.8,326.1 785.5,330.1 780.7,334 776.7,336.1 770.7,338.1 764.7,339 756.7,339.1 730.7,335.3 718.7,335.4 706.7,338.6 674.6,352.4 664.6,358.9 630.6,391.9 602.6,415.5 594.6,421.5 580.5,430.4 564.5,436.1 552.5,447.3 546.5,451.2 540.5,453.3 530.5,455.5 525.8,458.2 522.1,462.2 519.7,466.2 517.8,472.2 517.8,476.2 520.3,482.2 529.2,492.2 532.4,498.2 533.1,506.2 531.3,516.2 524.5,535 515,552.2 504.5,566.5 498.5,572.2 492.6,576.2 450.4,597.5 432.4,605.1 410.4,611.8 374.4,620.6 342.9,630.2 332.3,632.4 310.3,635.4 300.3,636 282.3,635.6 262.2,638.5 254.2,639 244.2,638.5 216.2,635.2 170.2,632.9 118.1,626.3 106.1,623.9 94.1,620.3 83.3,616.2 69.5,610.2 57.7,604.2 44.8,596.2 38,591.2 33.1,586.2 29.4,580.2 28,574.4 28.1,570.2 29.8,564.2 32,560.2 35.1,556.2 39.4,552.2 53.3,542.2 57.9,538.2 60.1,534.5 60.3,532.2 59.9,530.2 57.3,526.2 48.7,520.2 25,508.2 6,499.6 0,497.5 0,43.9 12,43.6 18,42.2 23.5,40 30.5,36 35.7,32 38.6,28 38.9,26 38.3,24 36.7,22 34,20 24.7,16 14,13.5 0,13.1ZM1319.4,0 1331.2,0 1331.2,10.4 1325.6,6ZM1327.7,54 1331.2,52.1 1331.2,481.4 1319.2,476.4 1310,470.2 1302.5,462.2 1298.5,454.2 1297.7,448.2 1298.2,444.2 1299.7,440.2 1304.4,432.2 1306,428.2 1307.3,422.2 1307.5,416.2 1304.7,404.2 1291.9,370.1 1288.4,354.1 1286.2,336.1 1284.8,278.1 1277.9,240.1 1273,224.1 1269.4,216.1 1265.2,208.5 1258.9,200.1 1239.3,178.1 1233.9,170.1 1230,160.1 1228.5,148.1 1229.2,136.1 1233.4,106 1234.4,82 1237,74 1241.2,68.5 1247.2,64.5 1255.2,61.9 1263.2,61.1 1289.2,61.9 1303.2,61.2 1317.2,58.5Z"/>
<path fill="#0068ff" d="M278.7,2 283.4,0 814.8,0 792.7,4.1 694.7,10.9 666.6,14.7 648.6,18.3 612.6,27.5 588.6,34.9 574.5,38.3 558.5,41.1 538.5,42.7 528.5,44.4 507.9,52 502.5,55.4 500.6,58 500.2,60 501.8,64 506,68 514.5,72.5 524.5,75 536.5,76.6 542.5,76.3 560.5,73.2 566.5,73.4 574.5,74.9 588.6,78.9 598.6,82.8 632.6,101.7 642.6,105 658.7,108 663.2,110 666.6,113.4 669,118 673.6,134.1 678.6,147.1 682.6,153.1 695.4,166.1 701.7,174.1 706.6,184.1 708.8,194.1 709.1,202.1 708.1,212.1 706.1,220.1 703.6,226.1 700.7,230.2 696.7,234 682.5,242.1 678.6,245.1 674.8,250.1 672.5,256.1 671.9,264.1 673.5,274.1 676.6,281.8 685.2,296.1 687.6,302.1 687.9,308.1 685.9,314.1 681.1,320.1 662.6,336.8 627.6,376.1 617.6,386.1 588.6,410.9 578.5,417.7 562.5,427.3 548.5,437.7 544.5,439.3 540.5,440 530.5,439 526.5,439.6 522.5,441.8 510.5,450.8 504.5,453.6 500.5,454.4 496.5,454.4 492.5,453.5 480.5,447.6 476.4,447.3 472.4,448 449.8,454.2 442.4,458 430.4,465.3 424.4,467.7 416.4,469.7 396.4,472.5 376.4,477.4 358.4,480.2 352.5,482.2 346.1,486.2 343.3,490.2 343.5,494.2 346.4,498.2 352,502.2 361.7,506.2 386.4,513.1 410.8,522.2 426.4,529.9 434.4,536.3 437.3,540.2 439.5,546.2 439.7,550.2 438.5,556.2 435.3,562.2 432,566.2 427.4,570.2 421.4,574.2 408.4,581 390.4,588 360.3,595.3 350.3,598.6 344.3,601.5 340.3,604.2 333.1,612.2 330.3,614.4 325.9,616.2 315.3,618.2 300.3,620.1 282.3,618.5 276.3,618.6 260.2,621.1 254.2,621.5 230.2,619.7 204.2,620.3 172.2,615.7 124.1,603.7 106.7,598.2 98.4,594.2 92.4,590.2 88,586.2 85.3,582.2 84,578.2 84.7,572.2 87.1,568.2 92.1,563.1 104.1,555.2 128.1,544.9 132,542.2 133.7,540.2 135,536.2 134.3,532.2 132.1,528.5 128.1,524.7 118.1,518 108.1,510.3 102.1,507.1 80.1,500.2 66.1,493.2 60.1,490.9 32,484.2 0,473.1 0,73.4 20,70.7 46,65 98.1,57.2 124.1,54.9 146.1,49.8 170.2,45.2 187.6,40 202.6,34 216.2,26.9 232.2,16.4 240.2,12.7 252.2,8.9ZM1330.8,102 1331.2,101.8 1331.2,404.9 1325.2,395.7 1314.2,374.1 1309.9,364.1 1306.9,354.1 1304.5,342.1 1303.8,334.1 1307.2,282.1 1306.4,268.1 1303.8,248.1 1300.6,234.1 1295.4,218.1 1279.4,182.1 1277.3,174.1 1276.6,168.1 1277,162.1 1278.4,156.1 1281.2,150.1 1285.4,144.1 1291.2,138.1 1307.2,124.4 1325.4,106Z"/>
<path fill="#0094ff" d="M301.9,58 312.3,58.7 334.3,62.3 366.3,60.3 376.4,60.5 386.4,61.7 394.4,63.4 404.4,66.5 484.1,96 498.5,100.2 516.5,103.4 542.5,103.8 570.5,106.5 578.5,108.2 582.6,110 588.6,114.3 592.6,118.9 595,124 595.8,128 595.7,134.1 591.9,150.1 592.3,152.1 593.9,154.1 597.1,156.1 602.6,157.8 614.6,159.5 626.6,159.6 646.6,156.3 652.6,156.9 656.6,158.5 660.6,162.1 662.6,165.8 670.9,188.1 680.3,206.1 681.4,212.1 680.8,214.1 678.6,216.8 662.6,225.8 654.6,232.2 649,240.1 644.9,250.1 644.2,258.1 646,276.1 653.3,300.1 654.8,308.1 654.7,312.1 653.3,318.1 648.4,328.1 641.5,338.1 622.9,362.1 609.1,378.1 582.2,402.2 550.5,424.9 542.5,428.4 530.5,429.1 524.5,430.5 520.5,432.5 508.5,440.8 502.5,443 498.5,443.2 494.5,442.2 484.5,436.1 478.4,435.2 462.4,439.5 444.4,441.9 418.4,449.4 397.1,452.2 374.4,456.3 348.3,459.3 330.3,462.6 305.7,468.2 285.6,474.2 273.9,480.2 267.6,486.2 262.8,496.2 260.1,500.2 256.2,503.5 251,506.2 242.2,508.6 228.2,510.1 216.2,510.3 206.2,509.1 198.2,506.6 194.1,504.2 192.2,502.2 191.5,500.2 191.7,498.2 193.1,496.2 198.2,492.4 202.2,490.3 216.2,485.1 230.4,478.2 232.9,476.2 233.8,474.2 232.8,470.2 229.8,466.2 225.2,462.2 218.6,458.2 209.9,454.2 203.6,452.2 184.2,448.1 176.2,448.1 158.1,450.7 146.1,451.5 132.1,450.5 118.1,447.7 94.1,439.8 70.1,433.4 53.5,424.2 28,413.1 6,401.6 0,399.2 0,133.8 26,114.7 46,103.7 64.1,96.4 94.3,88 104.1,86.1 130.1,83.7 154.1,78.1 162.2,76.9 202.2,72.7 228.2,69.3 256.2,67.2 288.3,59.5ZM540.5,162 528.5,164.6 514.5,165.9 504.9,168.1 477.2,178.1 474.7,180.1 474.2,182.1 475.5,184.1 481.6,188.1 492.4,192.1 498.5,193.2 504.5,193.1 526.5,190.6 547.3,186.1 552.5,183.9 559.4,178.1 563.2,172.1 563.8,168.1 563.2,166.1 561.3,164.1 556.5,162 548.5,161.1ZM1330.2,158.1 1331.2,157.4 1331.2,257.4 1319.4,206.1 1317.7,196.1 1317.1,188.1 1317.8,180.1 1320.1,172.1 1324.6,164.1ZM1331.2,302.1 1331.2,302 1331.2,358.9 1327.2,353.8 1324.5,348.1 1322.7,342.1 1321.6,334.1 1321.9,328.1 1323.2,321.5Z"/>
<path fill="#00c0ff" d="M301.4,96 330.3,94.8 352.3,97.8 362.3,98.5 380.4,97 386.4,97.1 392.4,98.2 397.4,100 407.3,106 414.2,112 419.9,118 421.9,122 421.2,124 415.7,128 406.8,132.1 398.4,134.6 386.4,137 380.2,140.1 376.5,144.1 374.9,148.1 374.6,152.1 375.8,158.1 377.5,162.1 380.4,166.6 383.6,170.1 388.9,174.1 413.1,188.1 425.5,194.1 438.4,199.3 448.4,202.2 460.4,204.4 482.5,203.7 502.5,204.9 526.5,203 548.5,202.5 572.5,198.5 588.6,198 600.6,199.4 611.1,202.1 620.6,205.9 626.9,210.1 630.6,214.3 632.7,220.1 632.4,230.1 629.7,246.1 629.3,252.1 636.2,298.1 635.8,310.1 633,320.1 627,332.1 613.8,352.1 601.1,368.1 593.2,376.1 573,394.2 550.5,411 540.9,416.2 522.5,421.7 508.5,430.3 504.5,432.1 498.5,432.8 486.5,428.4 478.4,427.7 472.4,428.8 460.4,432.4 440.4,434 416.4,438.3 396.4,439.5 372.3,442.3 350.3,443.6 330.3,446.5 306.3,447.4 270.3,446.8 246.2,444.1 224.2,442.8 184.2,437.9 150.1,438.2 138.1,437.1 128.1,435.4 116.1,432.1 58.1,412.2 26.2,398.2 0,381.9 0,303.4 4,299.3 11.3,288.1 20,272.7 33.2,246.1 40.6,234.1 50.7,220.1 53.2,214.1 53,210.1 52.3,208.1 48.8,204.1 44,201.5 30,196.7 24.5,194.1 20,190.6 16.8,186.1 15,180.1 15.2,172.1 18.3,164.1 24,156.9 32,151.1 46,145.1 60.1,141.4 74.1,139.9 86.1,140.8 98.1,143.1 130.1,154.4 136.1,155.2 142.1,154.8 148.1,152.7 153.4,148.1 156.7,142.1 161.9,128 165.8,122 172.8,116 180.8,112 192.2,109.1 219,104ZM444.1,122 450.4,122.2 456.4,124 460.1,126 462.2,128 462.3,130 458.9,132.1 454.4,132.9 450.4,132.9 446.2,132.1 442,130 439.4,128 438.1,126 438.8,124Z"/>
<path fill="#02e8f4" d="M229.6,184.1 252.2,183 284.3,184 302.3,185.2 324.3,187.7 330.3,189.4 334.3,191.4 358.3,207.9 364.3,210 368.3,209.7 384.4,206 398.4,205.4 408.4,206.4 438.4,211.3 456.4,213.5 466.4,213.6 486.5,212.1 506.5,213.2 528.5,213 564.8,216.1 578.5,218.7 584.5,221.2 589.1,224.1 600,234.1 606.6,243.1 611.3,254.1 617,272.1 619.2,290.1 619.2,298.1 618.5,306.1 615,320.1 611.6,328.1 606.1,338.1 599.3,348.1 592.6,356.5 576.5,372.3 556.5,389.4 546.5,396.9 537.5,402.2 508.5,416.9 502.5,419.4 496.5,420.2 484.5,419.8 478.4,420.1 472.4,421.3 460.4,425 454.4,426 438.4,426.3 410.4,429.3 370.3,429.9 336.3,429.6 306.3,433 276.3,434.1 214.2,433.3 182.2,430.3 150.1,429 132.1,426.1 120.1,423.2 70.1,405.6 54.1,398.8 38,390.9 20.3,380.1 13.2,374.1 10,370.1 6.5,364.1 2.9,356.1 1,350.1 0.4,346.1 0.8,340.1 3.7,330.1 7.7,322.1 12,316.3 28.3,300.1 36.5,290.1 41.2,282.1 48.5,264.1 52.5,256.1 60.1,245.1 68.6,236.1 80.1,227.6 90.1,222.3 98.1,219.6 116.1,214.9 158.1,198.3 178.2,192.9 204.2,187.3 216.2,185.4Z"/>
<path fill="#26ffd1" d="M246.4,210.1 270.3,209.6 294.3,211.1 320.3,215.3 338.3,216.6 356.3,222.6 362.3,223.6 368.3,223.1 382.4,220.3 394.4,219.4 460.4,221.6 488.5,219.8 530.5,223.2 542.5,225.3 553.5,228.1 568.5,233.7 578.5,239.6 588.6,249 596.2,260.1 601.4,272.1 603.9,284.1 604.3,292.1 603.9,300.1 601.3,314.1 598.5,322.1 594.5,330.1 590.6,336.4 584.5,344.1 566.6,362.1 540.5,383.8 510.5,401.4 500.5,406.3 492.5,408.8 474.4,412.2 458.4,416.5 452.4,417.4 408.4,419.5 336.3,418.1 280.3,423.4 212.2,426 204.2,425.7 184.2,423.5 154.1,421.7 132.1,417.8 120.1,414.8 72.1,397.5 56.1,390 38,380.1 26.8,372.1 20,364.6 15.8,356.1 14,348.1 14.7,340.1 17.9,332.1 22,326.5 26,322.8 50,306.1 58.1,298.2 62.3,290.1 67.1,272.1 70.7,264.1 78.1,254.3 85.6,248.1 96.1,242.4 110.1,237.5 174.2,221.5 200.2,217.3 222.2,212.7Z"/>
<path fill="#49ffad" d="M258.8,226.1 290.3,225.7 316.3,226.8 332.3,226.8 338.3,227.7 354.3,232 362.3,232.9 386.4,231.4 446.4,229.6 466.4,229.7 488.5,228.4 520.4,232.1 534.5,234.8 550.5,240 562.5,245.9 572.5,253.2 580.5,262.2 586.3,272.1 588.5,278.1 589.8,284.1 590.4,296.1 588.1,310.1 585.4,318.1 582.5,324.1 574.1,336.1 556.1,354.1 542.5,366 534.5,372.2 506.5,388.9 491.7,396.2 480.5,400 462.4,404.7 446.4,407.5 408.4,409.1 334.3,408.3 264.2,415 212.2,418.4 158.1,415 134.1,410.6 122.1,407.7 108.1,403.1 78.1,391.8 61.9,384.1 44.6,374.1 36.9,368.1 30.7,360.1 28.3,354.1 28,348.1 29.9,342.1 34,336.9 38,333.7 46,329.1 68.1,320 76,316.1 81.6,312.1 85.3,308.1 87.7,304.1 89,300.1 91.1,282.1 93.4,274.1 95.5,270.1 98.5,266.1 103,262.1 108.1,258.7 117.3,254.1 128.1,250.2 178.2,238 236.2,228.3Z"/>
<path fill="#6aff8d" d="M273.4,238.1 330.3,237.1 338.3,238.2 356.3,242.1 370.3,243.1 408.4,242.1 448.4,239.3 484.5,238.6 502.5,240.1 522.5,243.6 536.5,247.6 548.5,252.6 558.5,258.8 566.2,266.1 571.7,274.1 575.4,284.1 576.5,294.1 575,306.1 572.5,314.1 569.6,320.1 565.7,326.1 560.8,332.1 540.5,351.4 524.5,363.4 504.5,375.7 482.5,386.1 460.4,392.9 440.4,396.4 410.4,398.2 330.3,398.7 290.3,402.3 252.2,406.7 214.2,410 202.2,410 162.2,407.8 148.1,405.7 126.1,401 112.1,396.7 89.1,388.1 76.2,382.1 62,374.1 52,366.1 47.4,360.1 46.1,356.1 46.5,352.1 48.9,348.1 54.1,344.1 60.1,341.3 69,338.1 104.1,328.1 113.1,324.1 120.1,319.1 123.8,314.1 125.2,310.1 126,304.1 125.9,288.1 127.9,280.1 130.4,276.1 134.2,272.1 139.6,268.1 146.1,264.3 155.3,260.1 166.3,256.1 194.2,249 248.2,240.1Z"/>
<path fill="#8dff6a" d="M297.5,248.1 316.3,247.5 328.3,247.9 360.3,253.4 372.3,254.5 404.4,253.6 442.4,250.4 466.4,249.4 490.5,250.3 510.5,253.1 522.5,256.3 534.5,260.9 543.8,266.1 551,272.1 555.6,278.1 559.1,286.1 560.4,294.1 559.5,304.1 557.9,310.1 555.2,316.1 551.4,322.1 546.2,328.1 530.5,343 510.5,357.2 494.5,366 472.4,375.6 454.4,380.9 434.4,384.3 412.4,386.2 334.3,388.3 294.3,390.9 246.2,397.8 216.2,400.9 200.2,401.2 174.2,400 160.2,398.9 146.1,396.6 128.1,392.6 114,388.1 99,382.1 87.2,376.1 79.3,370.1 74.7,364.1 74.2,360.1 75.2,358.1 78.1,355.5 84.4,352.1 104.1,345.7 134.1,340 143.9,336.1 150.1,331.9 154.4,326.1 156.3,320.1 156.8,314.1 156,296.1 156.8,290.1 158.1,286.1 160.1,282.1 163.3,278.1 167.8,274.1 172.2,271.5 180.2,267.9 192.2,263.8 206.4,260.1 225.5,256.1 265.1,250.1Z"/>
<path fill="#b1ff46" d="M294.9,260.1 312.3,259.2 326.3,259.6 360.3,265.2 374.4,266.3 402.4,265.1 438.4,262.1 458.4,261.1 476.4,261.5 498.5,263.8 508.5,266 516.5,268.8 526.5,273.8 532.2,278.1 537.3,284.1 540.3,290.1 541.4,296.1 541.1,302.1 540.1,306.1 537.4,312.1 530.1,322.1 518.5,333.5 503.8,344.1 488.5,352.9 468.4,362 452.4,367.2 434.4,370.8 410.4,373.2 378.4,373.6 356.3,375 296.3,376.1 286.3,377.7 262.2,383.7 237.5,388.1 220.2,390.2 202.2,390.9 187.8,390.1 152.1,385.5 126.1,377.8 118.6,374.1 113.9,370.1 112.9,368.1 113.1,366.1 114.8,364.1 118.1,362.5 127,360.1 146.1,357.4 154.1,355.2 164.2,350.6 171.9,344.1 177.7,336.1 180.9,328.1 182.1,320.1 182.8,302.1 184.8,294.1 188.5,288.1 195.5,282.1 208.7,276.1 230.2,269.4 271.7,262.1Z"/>
<path fill="#d1ff26" d="M305.4,276.1 314.3,275.5 324.3,275.7 352.3,278.9 368.3,279.5 388.4,278.6 448.4,274.4 466.4,274.2 482.5,275.4 500.5,278.7 506.5,280.9 512.1,284.1 516.2,288.1 518.5,292.1 519.5,296.1 519.4,300.1 516.6,308.1 509.8,318.1 502.5,325.6 491.5,334.1 482.1,340.1 470.4,345.7 456.4,351.1 444.4,354.4 426.4,357.3 410.4,358.1 394.4,356.9 380.4,354.1 366.3,349.7 358.3,346.1 352.9,342.1 337.9,328.1 330.3,322.9 320.3,319.7 308.3,319.1 292.3,321.4 286.3,323.4 282.3,325.9 280.1,328.1 278.3,331.3 273.8,346.1 269.8,354.1 266.5,358.1 261.9,362.1 250.9,368.1 236.2,372.6 226.2,374.4 218.2,374.9 210.2,374.3 204.2,372.9 198.4,370.1 196.4,368.1 195.3,366.1 194.9,362.1 196.6,356.1 206.8,336.1 216.2,314.7 220.2,308.8 224.2,304.7 230.2,300.8 236.2,298.3 258.2,294 275.8,284.1 282.3,281.3 294.2,278.1Z"/>
<path fill="#f4f802" d="M442.6,292.1 468.4,291.9 476.4,292.6 483.2,294.1 488.5,296.6 491.9,300.1 493.1,304.1 492.5,308.1 489.5,314.1 484.5,319.6 478.4,324.2 468.4,330 460.4,333 446.4,336.8 436.4,338.7 428.4,339.1 418.4,338.8 408.4,337.5 402.4,335.9 394.4,332.7 382.6,326.1 374.1,320.1 368.4,314.1 366.5,310.1 366.7,306.1 368.3,303.8 374.4,300.2 381.4,298.1 418.4,293.6Z"/>
<use href="#coast" class="c"/></g>
<rect class="f" x="0" y="0" width="1331.25" height="656.25"/></g>
<g transform="translate(78.40,1816.80)">
<rect x="0.00" y="0" width="56.07" height="65.4" fill="#000096"/><rect x="55.47" y="0" width="56.07" height="65.4" fill="#0000c8"/><rect x="110.94" y="0" width="56.07" height="65.4" fill="#0000f6"/><rect x="166.41" y="0" width="56.07" height="65.4" fill="#0014ff"/><rect x="221.88" y="0" width="56.07" height="65.4" fill="#0040ff"/><rect x="277.34" y="0" width="56.07" height="65.4" fill="#0068ff"/><rect x="332.81" y="0" width="56.07" height="65.4" fill="#0094ff"/><rect x="388.28" y="0" width="56.07" height="65.4" fill="#00c0ff"/><rect x="443.75" y="0" width="56.07" height="65.4" fill="#02e8f4"/><rect x="499.22" y="0" width="56.07" height="65.4" fill="#26ffd1"/><rect x="554.69" y="0" width="56.07" height="65.4" fill="#49ffad"/><rect x="610.16" y="0" width="56.07" height="65.4" fill="#6aff8d"/><rect x="665.62" y="0" width="56.07" height="65.4" fill="#8dff6a"/><rect x="721.09" y="0" width="56.07" height="65.4" fill="#b1ff46"/><rect x="776.56" y="0" width="56.07" height="65.4" fill="#d1ff26"/><rect x="832.03" y="0" width="56.07" height="65.4" fill="#f4f802"/><rect x="887.50" y="0" width="56.07" height="65.4" fill="#ffd000"/><rect x="942.97" y="0" width="56.07" height="65.4" fill="#ffab00"/><rect x="998.44" y="0" width="56.07" height="65.4" fill="#ff8200"/><rect x="1053.91" y="0" width="56.07" height="65.4" fill="#ff5900"/><rect x="1109.38" y="0" width="56.07" height="65.4" fill="#ff3400"/><rect x="1164.84" y="0" width="56.07" height="65.4" fill="#f60b00"/><rect x="1220.31" y="0" width="56.07" height="65.4" fill="#c40000"/><rect x="1275.78" y="0" width="55.47" height="65.4" fill="#960000"/>
<rect class="f" x="0" y="0" width="1331.25" height="65.4"/>
<rect x="-1.67" y="65.4" width="3.33" height="15.6" fill="#000"/>
<text class="k" x="0.00" y="126.4" text-anchor="middle" textLength="65.2" lengthAdjust="spacingAndGlyphs">0.0</text>
<rect x="164.74" y="65.4" width="3.33" height="15.6" fill="#000"/>
<text class="k" x="166.41" y="126.4" text-anchor="middle" textLength="65.2" lengthAdjust="spacingAndGlyphs">7.5</text>
<rect x="331.15" y="65.4" width="3.33" height="15.6" fill="#000"/>
<text class="k" x="332.81" y="126.4" text-anchor="middle" textLength="91.7" lengthAdjust="spacingAndGlyphs">15.0</text>
<rect x="497.55" y="65.4" width="3.33" height="15.6" fill="#000"/>
<text class="k" x="499.22" y="126.4" text-anchor="middle" textLength="91.7" lengthAdjust="spacingAndGlyphs">22.5</text>
<rect x="663.96" y="65.4" width="3.33" height="15.6" fill="#000"/>
<text class="k" x="665.62" y="126.4" text-anchor="middle" textLength="91.7" lengthAdjust="spacingAndGlyphs">30.0</text>
<rect x="830.37" y="65.4" width="3.33" height="15.6" fill="#000"/>
<text class="k" x="832.03" y="126.4" text-anchor="middle" textLength="91.7" lengthAdjust="spacingAndGlyphs">37.5</text>
<rect x="996.77" y="65.4" width="3.33" height="15.6" fill="#000"/>
<text class="k" x="998.44" y="126.4" text-anchor="middle" textLength="91.7" lengthAdjust="spacingAndGlyphs">45.0</text>
<rect x="1163.18" y="65.4" width="3.33" height="15.6" fill="#000"/>
<text class="k" x="1164.84" y="126.4" text-anchor="middle" textLength="91.7" lengthAdjust="spacingAndGlyphs">52.5</text>
<rect x="1329.59" y="65.4" width="3.33" height="15.6" fill="#000"/>
<text class="k" x="1331.25" y="126.4" text-anchor="middle" textLength="91.7" lengthAdjust="spacingAndGlyphs">60.0</text>
</g>
<text class="t" x="744" y="2078.0" text-anchor="middle" textLength="1315.0" lengthAdjust="spacingAndGlyphs">Plasmasphere (h=1500.0 km), 2011-08-26 20:00 UT</text>
<g transform="translate(78.40,2102.30)"><g clip-path="url(#cp)">
<rect x="0" y="0" width="1331.25" height="656.25" fill="#0000c8"/>
<path fill="#0040ff" d="M857.9,88 890.8,87 918.9,87.4 942.9,89.2 976.9,93 1103,111.2 1132,118 1157.1,122.7 1189.3,130 1240,140.1 1294.9,148.1 1319.2,151 1331.2,151.8 1331.2,463.2 1319.2,462.6 1301.2,463.1 1257.2,465.9 1213.1,465.2 1199.1,464 1167.1,459.4 1129.1,452.3 1087,447.8 1069,447 1031,448.1 1021,449.4 978.9,457.1 944.9,464.6 900.8,472.1 824.8,482.7 794.7,488.8 770.7,492.6 742.7,499.1 716.7,504.2 674.6,514.6 642.6,521.1 592.6,528.1 544.5,530.5 494.5,529.2 464.4,527.4 436.4,526.9 398.4,522.7 380.4,519.2 310.3,501.6 282.3,495.1 256.2,488.2 204.2,478.7 186.2,477.4 148.1,477.5 114.1,476 82.1,473.6 0,465.4 0,152 62.1,158.6 116.1,166.7 212.2,185.8 260.2,190.5 310.3,189.4 346.3,185.3 362.8,182.1 408.4,166.3 442.4,151.6 484.5,136.7 542.5,121.2 560.5,117.3 586.6,113.1 614.6,110.2 698.7,106.7 736.7,103.8 768.7,100.3 836.8,90Z"/>
<path fill="#00c0ff" d="M855,136.1 896.8,134.4 944.9,135 1002.9,137.9 1065,142.4 1103,146.7 1147.1,154.4 1239.2,173.4 1299.2,182.6 1331.2,186.2 1331.2,422.9 1309.2,424 1251.2,432.8 1237.5,434.2 1227.2,434.4 1211.1,433.7 1191.1,431.9 1097,420.3 1067,419.7 1037,421.3 1021,423.1 1002.9,426 970.9,432.2 888.8,449.6 844.8,457.3 818.8,460.9 786.7,467.6 740.7,474.9 720.7,477.5 620.6,487.7 574.5,490.3 552.5,489 490.5,482.3 426.2,476.2 411.7,474.2 350.3,458.7 316.3,453.2 272.3,444.5 260.2,440.5 216.2,422.5 202.2,418.3 192.2,416.5 176.2,415.7 158.1,416.5 84.1,425.7 58.1,428 42,428 0,425.7 0,199.2 50,203.6 104.1,204.1 146.1,206.2 159.8,208.1 226.2,222 240.2,224.2 258.2,226.1 270.3,226.7 306.3,225.4 342.3,221.1 368.3,215.6 406.4,202.9 446.4,185.6 478.4,174.1 502.5,167.6 540.5,160.3 568.5,156.7 618.6,152.7 722.7,148 766.7,144.5Z"/>
<path fill="#49ffad" d="M932.7,166.1 964.9,166.1 1008.9,167.2 1075,170.9 1085,172 1133.1,179.7 1159.1,187.1 1183.1,192.3 1211.1,200.4 1235.2,205 1267.2,213 1331.2,227.1 1331.2,369 1303.2,360.1 1291.2,357.8 1281.2,357.7 1273.2,359.6 1265.2,363.7 1260.4,368.1 1252,380.1 1246.2,386.1 1236.5,392.1 1231.2,394.3 1225.2,395.8 1215.1,396.3 1189.1,394.2 1159.1,393 1117,386.8 1109,386.7 1099,387.4 1029,397.2 1002.9,401.5 952.9,412.4 874.8,432.2 846.8,437.3 822.8,442.4 796.7,445.7 768.7,450.6 718.7,453.4 706.7,452.6 676.6,448.8 660.6,447.6 644.6,447.6 602.6,449.2 576.5,448.8 562.5,447.4 516.5,440.8 480.5,434.5 458.4,429.4 430.4,420.7 396.4,408.7 374.4,402.7 360.3,401.1 324.3,403.4 298.3,403 286.3,401.8 274.3,399.4 260.2,395.3 218.2,379.9 206.2,377 196.2,375.5 180.2,375.2 160.2,376.5 80.1,387.4 62.1,388.8 44,388.9 30,388.1 0,383 0,241.1 26,240 90.1,240 116.1,240.5 134.1,241.8 152.1,244.7 170.2,249.1 184.2,253.6 212.2,264 222.2,266.9 234.2,268.6 248.2,268.2 260.2,266.7 294.3,260.1 332.3,255 374.4,250.6 398.4,246.2 410.4,242.6 420.4,238.6 454.4,220.1 486.5,206.1 504.5,201.1 544.5,193.5 572.5,190.1 608.6,187.3 632.6,186.1 668.6,185.3 756.7,179.2 790.7,176.4 874.2,168.1ZM1155.1,283.7 1149.1,285.8 1145.1,288.1 1141.1,291.5 1137.5,296.1 1134.5,302.1 1132,310.1 1131.7,314.1 1133.1,318.6 1135.1,320.1 1139.1,320.4 1153.1,317.9 1163.1,317.5 1171.1,318.5 1187.1,322.4 1191.1,322 1193.9,320.1 1195.1,318.1 1195.9,314.1 1194.8,308.1 1190.9,300.1 1184.2,292.1 1177.1,287 1170.1,284.1 1163.1,282.9Z"/>
<path fill="#b1ff46" d="M923.8,202.1 936.9,200.7 952.9,200.4 972.9,200.8 985.5,202.1 1000.9,204.8 1010.9,207.8 1017,211.2 1022.2,216.1 1025.7,222.1 1026.6,226.1 1026.7,230.1 1025.6,236.1 1019.7,258.1 1018.8,266.1 1019.3,272.1 1021.6,280.1 1026.1,290.1 1030,296.1 1043.8,314.1 1048.4,322.1 1050.9,328.1 1052.3,336.1 1051.6,342.1 1048.5,348.1 1044.3,352.1 1035,357.5 1025,361.2 930.9,385.2 866,404.2 828.8,411.5 816.8,412.8 806.8,413 794.2,412.2 782.5,410.2 774.7,407 769,402.2 766.7,398.2 765.3,392.1 765.6,386.1 768.3,374.1 769,368.1 768.3,362.1 765.7,354.1 760.8,346.1 754.7,340.1 746.7,335.3 736.7,332.5 728.7,332.2 720.7,333 712.7,335 704,338.1 692.4,344.1 659.5,370.1 642.4,380.1 624.6,387.9 608.6,393.3 594.6,396.8 582.5,398 566.5,396.4 546.5,392.4 516.5,382.8 492.5,377.9 474.4,371.4 466.4,369.4 452.4,368.5 426.4,370.1 414.4,368.8 404.4,365.7 388.4,358.5 378.4,356.2 372.3,355.9 364.3,356.6 328.3,363.4 314.3,365.4 304.3,365.5 292.3,364.1 278.3,360.5 268.3,355.2 262.1,350.1 258.4,346.1 254.6,340.1 253.1,336.1 252.6,332.1 253.1,328.1 254.7,324.1 257.4,320.1 266.1,312.1 275.6,306.1 288.3,300 300.3,296.2 316.3,293.5 330.3,292.6 344.3,293.7 358.3,296.4 370.3,299.9 384.4,305.8 390.4,307.5 396.4,308.1 410.4,307.8 420.4,309.1 428.4,311.8 440.4,318.2 448.4,321.5 475.1,328.1 492.5,333.3 506.5,335.2 512.5,335.1 518.5,334.3 524.5,332.2 527.8,330.1 530.5,327.6 532.6,324.1 534.4,316.1 535.1,296.1 537.1,282.1 541.3,266.1 546.1,256.1 552.6,248.1 560,242.1 570.8,236.1 584.5,230.7 594,228.1 602.6,226.7 664.6,220.4 746.7,222.2 798.8,221 838.8,218.4 868.8,214.7 900.8,206.3ZM0.7,282.1 16,280.5 36,280.8 100.1,284.1 114.1,285.7 127.6,288.1 146.1,293.6 158.5,300.1 164.2,304.3 169.9,310.1 173.3,316.1 173.7,320.1 172.2,324.1 170.6,326.1 166.2,329.2 159.9,332.1 140.9,338.1 105.2,346.1 84.1,348.7 60.1,350.4 40,349.6 22,347.1 0,340.7 0,282.2ZM1330.6,292.1 1331.2,292 1331.2,307.5 1328.6,306.1 1326.6,304.1 1325.2,301.9 1324.4,298.1 1324.8,296.1 1326.1,294.1Z"/>
<use href="#coast" class="c"/></g>
<rect class="f" x="0" y="0" width="1331.25" height="656.25"/></g>
<g transform="translate(78.40,2801.70)">
<rect x="0.00" y="0" width="167.01" height="65.4" fill="#0000c8"/><rect x="166.41" y="0" width="167.01" height="65.4" fill="#0040ff"/><rect x="332.81" y="0" width="167.01" height="65.4" fill="#00c0ff"/><rect x="499.22" y="0" width="167.01" height="65.4" fill="#49ffad"/><rect x="665.62" y="0" width="167.01" height="65.4" fill="#b1ff46"/><rect x="832.03" y="0" width="167.01" height="65.4" fill="#ffd000"/><rect x="998.44" y="0" width="167.01" height="65.4" fill="#ff5900"/><rect x="1164.84" y="0" width="166.41" height="65.4" fill="#c40000"/>
<rect class="f" x="0" y="0" width="1331.25" height="65.4"/>
<rect x="-1.67" y="65.4" width="3.33" height="15.6" fill="#000"/>
<text class="k" x="0.00" y="126.4" text-anchor="middle" textLength="65.2" lengthAdjust="spacingAndGlyphs">0.0</text>
<rect x="164.74" y="65.4" width="3.33" height="15.6" fill="#000"/>
<text class="k" x="166.41" y="126.4" text-anchor="middle" textLength="65.2" lengthAdjust="spacingAndGlyphs">2.5</text>
<rect x="331.15" y="65.4" width="3.33" height="15.6" fill="#000"/>
<text class="k" x="332.81" y="126.4" text-anchor="middle" textLength="65.2" lengthAdjust="spacingAndGlyphs">5.0</text>
<rect x="497.55" y="65.4" width="3.33" height="15.6" fill="#000"/>
<text class="k" x="499.22" y="126.4" text-anchor="middle" textLength="65.2" lengthAdjust="spacingAndGlyphs">7.5</text>
<rect x="663.96" y="65.4" width="3.33" height="15.6" fill="#000"/>
<text class="k" x="665.62" y="126.4" text-anchor="middle" textLength="91.7" lengthAdjust="spacingAndGlyphs">10.0</text>
<rect x="830.37" y="65.4" width="3.33" height="15.6" fill="#000"/>
<text class="k" x="832.03" y="126.4" text-anchor="middle" textLength="91.7" lengthAdjust="spacingAndGlyphs">12.5</text>
<rect x="996.77" y="65.4" width="3.33" height="15.6" fill="#000"/>
<text class="k" x="998.44" y="126.4" text-anchor="middle" textLength="91.7" lengthAdjust="spacingAndGlyphs">15.0</text>
<rect x="1163.18" y="65.4" width="3.33" height="15.6" fill="#000"/>
<text class="k" x="1164.84" y="126.4" text-anchor="middle" textLength="91.7" lengthAdjust="spacingAndGlyphs">17.5</text>
<rect x="1329.59" y="65.4" width="3.33" height="15.6" fill="#000"/>
<text class="k" x="1331.25" y="126.4" text-anchor="middle" textLength="91.7" lengthAdjust="spacingAndGlyphs">20.0</text>
</g>
</svg></body></html>
